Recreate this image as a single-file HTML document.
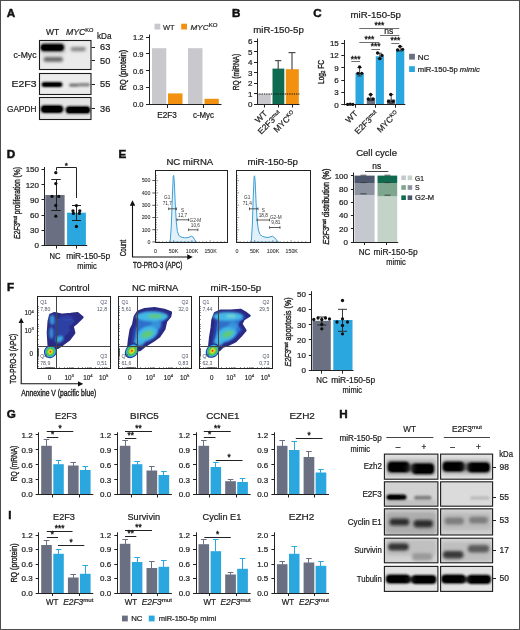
<!DOCTYPE html>
<html lang="en"><head><meta charset="utf-8"><title>Figure</title>
<style>
html,body{margin:0;padding:0;background:#fff;}
body{width:520px;height:630px;overflow:hidden;}
svg{display:block;font-family:'Liberation Sans', sans-serif;fill:#222;}
svg text{stroke:#222;stroke-width:0.22px;}
</style></head><body>
<svg width="520" height="630" viewBox="0 0 520 630">
<rect width="520" height="630" fill="#fff"/>
<defs>
<filter id="b1" x="-30%" y="-80%" width="160%" height="260%"><feGaussianBlur stdDeviation="1.1"/></filter>
<filter id="b2" x="-30%" y="-80%" width="160%" height="260%"><feGaussianBlur stdDeviation="1.6"/></filter>
<filter id="b03" x="-30%" y="-30%" width="160%" height="160%"><feGaussianBlur stdDeviation="0.4"/></filter>
<filter id="b05" x="-30%" y="-30%" width="160%" height="160%"><feGaussianBlur stdDeviation="0.7"/></filter>
<filter id="bd" x="-30%" y="-30%" width="160%" height="160%"><feGaussianBlur stdDeviation="1.0"/></filter>
<marker id="ah" viewBox="0 0 10 10" refX="5" refY="5" markerWidth="5" markerHeight="5" orient="auto-start-reverse"><path d="M0,0 L10,5 L0,10 z" fill="#111"/></marker>
</defs>
<text transform="translate(6.8,17) scale(1.1,1)" font-size="10.6" font-weight="bold" style="stroke-width:0.45px;stroke:#111" fill="#111">A</text>
<text font-size="9" textLength="13.2" lengthAdjust="spacingAndGlyphs" x="46" y="35.2" >WT</text>
<text font-size="9" textLength="27.5" lengthAdjust="spacingAndGlyphs" font-style="italic" x="66" y="35.2" >MYC<tspan font-size="5.8" dy="-3" font-style="normal">KO</tspan></text>
<text font-size="8.8" textLength="14.5" lengthAdjust="spacingAndGlyphs" x="97" y="39" >kDa</text>
<clipPath id="cA1"><rect x="39.5" y="40.5" width="51.5" height="29"/></clipPath>
<rect x="39.5" y="40.5" width="51.5" height="29" fill="#eaeaea" />
<g clip-path="url(#cA1)">
<rect x="40" y="42" width="26" height="12" rx="4" fill="#888" opacity="0.3" filter="url(#b2)"/>
<rect x="40.5" y="43.8" width="23.7" height="7.4" rx="3.700000000000003" fill="#000" opacity="1" filter="url(#b1)"/>
<rect x="41.5" y="45.0" width="21.0" height="5.2" rx="2.6000000000000014" fill="#000" opacity="1" filter="url(#b05)"/>
<rect x="43.5" y="57.0" width="19.5" height="4.8" rx="2.3999999999999986" fill="#444" opacity="0.8" filter="url(#b2)"/>
<rect x="70.5" y="47.0" width="15.5" height="4.2" rx="2.1000000000000014" fill="#666" opacity="0.75" filter="url(#b2)"/>
</g>
<rect x="39.5" y="40.5" width="51.5" height="29" fill="none" stroke="#1c1c1c" stroke-width="1.1" />
<clipPath id="cA2"><rect x="39.5" y="73.5" width="51.5" height="21"/></clipPath>
<rect x="39.5" y="73.5" width="51.5" height="21" fill="#ebebeb" />
<g clip-path="url(#cA2)">
<rect x="41.5" y="82.0" width="21.0" height="5.0" rx="2.5" fill="#000" opacity="1" filter="url(#b1)"/>
<rect x="43" y="83.0" width="18" height="3.2" rx="1.6000000000000014" fill="#000" opacity="0.9" filter="url(#b05)"/>
<rect x="69" y="83.4" width="10" height="3.4" rx="1.6999999999999957" fill="#555" opacity="0.8" filter="url(#b1)"/>
<rect x="78" y="83.0" width="12" height="3.4" rx="1.7000000000000028" fill="#666" opacity="0.75" filter="url(#b1)"/>
</g>
<rect x="39.5" y="73.5" width="51.5" height="21" fill="none" stroke="#1c1c1c" stroke-width="1.1" />
<clipPath id="cA3"><rect x="39.5" y="97.5" width="51.5" height="22"/></clipPath>
<rect x="39.5" y="97.5" width="51.5" height="22" fill="#e4e4e4" />
<g clip-path="url(#cA3)">
<rect x="40.5" y="105.2" width="23.0" height="7.8" rx="3.8999999999999986" fill="#000" opacity="1" filter="url(#b1)"/>
<rect x="42" y="106.0" width="20" height="6.2" rx="3.1000000000000014" fill="#000" opacity="1" filter="url(#b05)"/>
<rect x="65.5" y="106.2" width="25.0" height="7.4" rx="3.6999999999999957" fill="#000" opacity="1" filter="url(#b1)"/>
<rect x="67" y="107.0" width="22" height="5.8" rx="2.8999999999999986" fill="#000" opacity="1" filter="url(#b05)"/>
</g>
<rect x="39.5" y="97.5" width="51.5" height="22" fill="none" stroke="#1c1c1c" stroke-width="1.1" />
<text font-size="8.8" text-anchor="end" textLength="23" lengthAdjust="spacingAndGlyphs" x="36.5" y="57.5" >c-Myc</text>
<text font-size="8.8" text-anchor="end" textLength="25" lengthAdjust="spacingAndGlyphs" x="36.5" y="87.3" >E2F3</text>
<text font-size="8.8" text-anchor="end" textLength="29.5" lengthAdjust="spacingAndGlyphs" x="36.5" y="111.8" >GAPDH</text>
<line x1="91.5" y1="47.5" x2="95" y2="47.5" stroke="#222" stroke-width="1" />
<text font-size="8.8" textLength="10.3" lengthAdjust="spacingAndGlyphs" x="100" y="50.400000000000006" >63</text>
<line x1="91.5" y1="60.5" x2="95" y2="60.5" stroke="#222" stroke-width="1" />
<text font-size="8.8" textLength="10.3" lengthAdjust="spacingAndGlyphs" x="100" y="63.5" >50</text>
<line x1="91.5" y1="84.5" x2="95" y2="84.5" stroke="#222" stroke-width="1" />
<text font-size="8.8" textLength="10.3" lengthAdjust="spacingAndGlyphs" x="100" y="87.4" >55</text>
<line x1="91.5" y1="108.5" x2="95" y2="108.5" stroke="#222" stroke-width="1" />
<text font-size="8.8" textLength="10.3" lengthAdjust="spacingAndGlyphs" x="100" y="111.7" >36</text>
<text font-size="8.6" text-anchor="middle" textLength="40.5" lengthAdjust="spacingAndGlyphs" transform="translate(125.596,70) rotate(-90)" style="stroke-width:0.36px">RQ (protein)</text>
<line x1="149.5" y1="34.5" x2="149.5" y2="105.0" stroke="#222" stroke-width="1" />
<line x1="146.0" y1="37.5" x2="149.5" y2="37.5" stroke="#222" stroke-width="1" />
<text font-size="8.0" text-anchor="end" textLength="10.5" lengthAdjust="spacingAndGlyphs" x="143.5" y="39.88" >1.2</text>
<line x1="146.0" y1="53.5" x2="149.5" y2="53.5" stroke="#222" stroke-width="1" />
<text font-size="8.0" text-anchor="end" textLength="10.5" lengthAdjust="spacingAndGlyphs" x="143.5" y="56.78" >0.9</text>
<line x1="146.0" y1="70.5" x2="149.5" y2="70.5" stroke="#222" stroke-width="1" />
<text font-size="8.0" text-anchor="end" textLength="10.5" lengthAdjust="spacingAndGlyphs" x="143.5" y="73.67999999999999" >0.6</text>
<line x1="146.0" y1="87.5" x2="149.5" y2="87.5" stroke="#222" stroke-width="1" />
<text font-size="8.0" text-anchor="end" textLength="10.5" lengthAdjust="spacingAndGlyphs" x="143.5" y="90.47999999999999" >0.3</text>
<line x1="146.0" y1="104.5" x2="149.5" y2="104.5" stroke="#222" stroke-width="1" />
<text font-size="8.0" text-anchor="end" textLength="10.5" lengthAdjust="spacingAndGlyphs" x="143.5" y="107.38" >0.0</text>
<rect x="152" y="48.2" width="14.3" height="56.3" fill="#c9c8cd" />
<rect x="168" y="93.4" width="14.5" height="11.1" fill="#f2900f" />
<rect x="188" y="48.2" width="14.5" height="56.3" fill="#c9c8cd" />
<rect x="204.5" y="98.8" width="14.3" height="5.7" fill="#f2900f" />
<line x1="149" y1="104.5" x2="221.5" y2="104.5" stroke="#222" stroke-width="1" />
<line x1="167.5" y1="104.5" x2="167.5" y2="108" stroke="#222" stroke-width="1" />
<line x1="203.5" y1="104.5" x2="203.5" y2="108" stroke="#222" stroke-width="1" />
<text font-size="8.2" text-anchor="middle" textLength="19.5" lengthAdjust="spacingAndGlyphs" x="167" y="118.3" >E2F3</text>
<text font-size="8.2" text-anchor="middle" textLength="21" lengthAdjust="spacingAndGlyphs" x="203.5" y="118.3" >c-Myc</text>
<rect x="154.5" y="23.7" width="5.8" height="5.8" fill="#c9c8cd" />
<text font-size="7.8" textLength="11.6" lengthAdjust="spacingAndGlyphs" fill="#333" x="163" y="29.6" >WT</text>
<rect x="181.2" y="23.7" width="5.8" height="5.8" fill="#f2900f" />
<text font-size="7.8" textLength="27" lengthAdjust="spacingAndGlyphs" font-style="italic" fill="#333" x="190.5" y="29.6" >MYC<tspan font-size="5.8" dy="-2.8" font-style="normal">KO</tspan></text>
<text transform="translate(232,16.8) scale(1.1,1)" font-size="10.6" font-weight="bold" style="stroke-width:0.45px;stroke:#111" fill="#111">B</text>
<text font-size="9.4" textLength="50.5" lengthAdjust="spacingAndGlyphs" x="253.3" y="33" >miR-150-5p</text>
<text font-size="8.6" text-anchor="middle" textLength="36.5" lengthAdjust="spacingAndGlyphs" transform="translate(239.096,72) rotate(-90)" style="stroke-width:0.36px">RQ (miRNA)</text>
<line x1="257.5" y1="38.5" x2="257.5" y2="105.0" stroke="#222" stroke-width="1" />
<line x1="254" y1="104.5" x2="257" y2="104.5" stroke="#222" stroke-width="1" />
<text font-size="8.0" text-anchor="end" x="252.5" y="107.38" >0</text>
<line x1="254" y1="93.5" x2="257" y2="93.5" stroke="#222" stroke-width="1" />
<text font-size="8.0" text-anchor="end" x="252.5" y="96.84" >1</text>
<line x1="254" y1="83.5" x2="257" y2="83.5" stroke="#222" stroke-width="1" />
<text font-size="8.0" text-anchor="end" x="252.5" y="86.3" >2</text>
<line x1="254" y1="72.5" x2="257" y2="72.5" stroke="#222" stroke-width="1" />
<text font-size="8.0" text-anchor="end" x="252.5" y="75.75999999999999" >3</text>
<line x1="254" y1="62.5" x2="257" y2="62.5" stroke="#222" stroke-width="1" />
<text font-size="8.0" text-anchor="end" x="252.5" y="65.22" >4</text>
<line x1="254" y1="51.5" x2="257" y2="51.5" stroke="#222" stroke-width="1" />
<text font-size="8.0" text-anchor="end" x="252.5" y="54.68000000000001" >5</text>
<line x1="254" y1="41.5" x2="257" y2="41.5" stroke="#222" stroke-width="1" />
<text font-size="8.0" text-anchor="end" x="252.5" y="44.14000000000001" >6</text>
<rect x="258" y="94" width="12.8" height="10.5" fill="#c9c8cd" />
<rect x="272.5" y="68.6" width="11.8" height="35.9" fill="#0f6a50" />
<rect x="285.8" y="69.2" width="13.0" height="35.3" fill="#f2900f" />
<line x1="278.2" y1="69" x2="278.2" y2="60.6" stroke="#4d4d4d" stroke-width="1.2" />
<line x1="275.09999999999997" y1="60.6" x2="281.3" y2="60.6" stroke="#4d4d4d" stroke-width="1.2" />
<line x1="292" y1="69.5" x2="292" y2="52.6" stroke="#4d4d4d" stroke-width="1.2" />
<line x1="288.5" y1="52.6" x2="295.5" y2="52.6" stroke="#4d4d4d" stroke-width="1.2" />
<line x1="257" y1="94" x2="299.5" y2="94" stroke="#111" stroke-width="1" stroke-dasharray="1.3,1"/>
<line x1="256.5" y1="104.5" x2="299.5" y2="104.5" stroke="#222" stroke-width="1" />
<line x1="264.5" y1="104.5" x2="264.5" y2="107.5" stroke="#222" stroke-width="1" />
<line x1="278.5" y1="104.5" x2="278.5" y2="107.5" stroke="#222" stroke-width="1" />
<line x1="292.5" y1="104.5" x2="292.5" y2="107.5" stroke="#222" stroke-width="1" />
<text font-size="8.4" text-anchor="end" transform="translate(267.8,114.2) rotate(-45)">WT</text>
<text font-size="8.4" text-anchor="end" transform="translate(281.8,114.2) rotate(-45)">E2F3<tspan font-size="5.4" dy="-2.8" font-style="normal">mut</tspan></text>
<text font-size="8.4" text-anchor="end" transform="translate(295.8,114.2) rotate(-45)">MYC<tspan font-size="5.4" dy="-2.8" font-style="normal">KO</tspan></text>
<text transform="translate(313.3,16.8) scale(1.1,1)" font-size="10.6" font-weight="bold" style="stroke-width:0.45px;stroke:#111" fill="#111">C</text>
<text font-size="9.4" textLength="50.5" lengthAdjust="spacingAndGlyphs" x="350.5" y="18" >miR-150-5p</text>
<text font-size="8.6" text-anchor="middle" textLength="24" lengthAdjust="spacingAndGlyphs" transform="translate(323.596,72) rotate(-90)" style="stroke-width:0.36px">Log<tspan font-size="5.5" dy="1.5">2</tspan><tspan dy="-1.5"> FC</tspan></text>
<line x1="344.5" y1="40" x2="344.5" y2="105.3" stroke="#222" stroke-width="1" />
<line x1="341.3" y1="104.5" x2="344.3" y2="104.5" stroke="#222" stroke-width="1" />
<text font-size="8.0" text-anchor="end" x="338.8" y="107.67999999999999" >0</text>
<line x1="341.3" y1="92.5" x2="344.3" y2="92.5" stroke="#222" stroke-width="1" />
<text font-size="8.0" text-anchor="end" x="338.8" y="95.329" >3</text>
<line x1="341.3" y1="80.5" x2="344.3" y2="80.5" stroke="#222" stroke-width="1" />
<text font-size="8.0" text-anchor="end" x="338.8" y="82.978" >6</text>
<line x1="341.3" y1="67.5" x2="344.3" y2="67.5" stroke="#222" stroke-width="1" />
<text font-size="8.0" text-anchor="end" x="338.8" y="70.627" >9</text>
<line x1="341.3" y1="55.5" x2="344.3" y2="55.5" stroke="#222" stroke-width="1" />
<text font-size="8.0" text-anchor="end" x="338.8" y="58.276" >12</text>
<line x1="341.3" y1="43.5" x2="344.3" y2="43.5" stroke="#222" stroke-width="1" />
<text font-size="8.0" text-anchor="end" x="338.8" y="45.925" >15</text>
<rect x="346" y="104.39" width="8.5" height="0.41" fill="#6a7081" />
<rect x="355.5" y="73.1" width="8.3" height="31.7" fill="#2ba7df" />
<rect x="366.8" y="98.21" width="8.2" height="6.59" fill="#6a7081" />
<rect x="375.8" y="56.22" width="8.1" height="48.58" fill="#2ba7df" />
<rect x="387" y="99.45" width="8.3" height="5.35" fill="#6a7081" />
<rect x="396" y="50.04" width="8.3" height="54.76" fill="#2ba7df" />
<line x1="343.8" y1="104.5" x2="405.3" y2="104.5" stroke="#222" stroke-width="1" />
<line x1="359.6" y1="67.5" x2="359.6" y2="76" stroke="#333" stroke-width="0.9" />
<line x1="357.35" y1="67.5" x2="361.85" y2="67.5" stroke="#333" stroke-width="0.9" />
<line x1="357.35" y1="76" x2="361.85" y2="76" stroke="#333" stroke-width="0.9" />
<line x1="370.8" y1="94.6" x2="370.8" y2="100.6" stroke="#333" stroke-width="0.9" />
<line x1="368.55" y1="94.6" x2="373.05" y2="94.6" stroke="#333" stroke-width="0.9" />
<line x1="368.55" y1="100.6" x2="373.05" y2="100.6" stroke="#333" stroke-width="0.9" />
<line x1="379.8" y1="53.2" x2="379.8" y2="58.6" stroke="#333" stroke-width="0.9" />
<line x1="377.55" y1="53.2" x2="382.05" y2="53.2" stroke="#333" stroke-width="0.9" />
<line x1="377.55" y1="58.6" x2="382.05" y2="58.6" stroke="#333" stroke-width="0.9" />
<line x1="391.2" y1="94.6" x2="391.2" y2="103.2" stroke="#333" stroke-width="0.9" />
<line x1="388.95" y1="94.6" x2="393.45" y2="94.6" stroke="#333" stroke-width="0.9" />
<line x1="388.95" y1="103.2" x2="393.45" y2="103.2" stroke="#333" stroke-width="0.9" />
<line x1="400.2" y1="46.6" x2="400.2" y2="51" stroke="#333" stroke-width="0.9" />
<line x1="397.95" y1="46.6" x2="402.45" y2="46.6" stroke="#333" stroke-width="0.9" />
<line x1="397.95" y1="51" x2="402.45" y2="51" stroke="#333" stroke-width="0.9" />
<circle cx="347.6" cy="104.4" r="1.65" fill="#111"/>
<circle cx="350.2" cy="104.2" r="1.65" fill="#111"/>
<circle cx="352.8" cy="104.4" r="1.65" fill="#111"/>
<circle cx="359.6" cy="67.0" r="1.65" fill="#111"/>
<circle cx="357.9" cy="73.3" r="1.65" fill="#111"/>
<circle cx="361.8" cy="73.3" r="1.65" fill="#111"/>
<circle cx="370.6" cy="94.5" r="1.65" fill="#111"/>
<circle cx="368.3" cy="99" r="1.65" fill="#111"/>
<circle cx="373.0" cy="99" r="1.65" fill="#111"/>
<circle cx="377.6" cy="53.0" r="1.65" fill="#111"/>
<circle cx="382.0" cy="55.5" r="1.65" fill="#111"/>
<circle cx="379.8" cy="58.7" r="1.65" fill="#111"/>
<circle cx="390.8" cy="94.5" r="1.65" fill="#111"/>
<circle cx="388.6" cy="101.3" r="1.65" fill="#111"/>
<circle cx="393.2" cy="101.3" r="1.65" fill="#111"/>
<circle cx="400.0" cy="46.3" r="1.65" fill="#111"/>
<circle cx="397.6" cy="50.0" r="1.65" fill="#111"/>
<circle cx="402.6" cy="49.3" r="1.65" fill="#111"/>
<line x1="355.5" y1="104.8" x2="355.5" y2="107.8" stroke="#222" stroke-width="1" />
<line x1="375.5" y1="104.8" x2="375.5" y2="107.8" stroke="#222" stroke-width="1" />
<line x1="395.5" y1="104.8" x2="395.5" y2="107.8" stroke="#222" stroke-width="1" />
<text font-size="8.4" text-anchor="end" transform="translate(358.3,114.2) rotate(-45)">WT</text>
<text font-size="8.4" text-anchor="end" transform="translate(378.6,114.2) rotate(-45)">E2F3<tspan font-size="5.4" dy="-2.8" font-style="normal">mut</tspan></text>
<text font-size="8.4" text-anchor="end" transform="translate(399.1,114.2) rotate(-45)">MYC<tspan font-size="5.4" dy="-2.8" font-style="normal">KO</tspan></text>
<line x1="359.3" y1="28.5" x2="399.3" y2="28.5" stroke="#6f6f6f" stroke-width="1" />
<text font-size="8.4" text-anchor="middle" x="379.3" y="28.1" style="stroke-width:0.4px">***</text>
<line x1="380" y1="35.5" x2="399.3" y2="35.5" stroke="#6f6f6f" stroke-width="1" />
<text font-size="8.6" text-anchor="middle" x="388.8" y="34.199999999999996" >ns</text>
<line x1="359.3" y1="42.5" x2="379.3" y2="42.5" stroke="#6f6f6f" stroke-width="1" />
<text font-size="8.4" text-anchor="middle" x="369.3" y="42.300000000000004" style="stroke-width:0.4px">***</text>
<line x1="391.3" y1="43.5" x2="399.3" y2="43.5" stroke="#6f6f6f" stroke-width="1" />
<text font-size="8.4" text-anchor="middle" x="395.3" y="42.800000000000004" style="stroke-width:0.4px">***</text>
<line x1="371.3" y1="49.5" x2="380" y2="49.5" stroke="#6f6f6f" stroke-width="1" />
<text font-size="8.4" text-anchor="middle" x="375.65" y="49.1" style="stroke-width:0.4px">***</text>
<line x1="351.3" y1="61.5" x2="360" y2="61.5" stroke="#6f6f6f" stroke-width="1" />
<text font-size="8.4" text-anchor="middle" x="355.65" y="61.6" style="stroke-width:0.4px">***</text>
<rect x="409.1" y="53.8" width="5.8" height="5.8" fill="#6a7081" />
<text font-size="7.9" textLength="11.6" lengthAdjust="spacingAndGlyphs" x="417.8" y="60" >NC</text>
<rect x="409.1" y="66.2" width="5.8" height="5.8" fill="#2ba7df" />
<text font-size="7.9" textLength="62" lengthAdjust="spacingAndGlyphs" x="417.8" y="72.4" >miR-150-5p <tspan font-style="italic">mimic</tspan></text>
<text transform="translate(6.8,158) scale(1.1,1)" font-size="10.6" font-weight="bold" style="stroke-width:0.45px;stroke:#111" fill="#111">D</text>
<text font-size="8.6" text-anchor="middle" textLength="72" lengthAdjust="spacingAndGlyphs" transform="translate(20.096,203) rotate(-90)" style="stroke-width:0.36px"><tspan font-style="italic">E2F3</tspan><tspan font-size="5.4" dy="-2.8">mut</tspan><tspan dy="2.8"> proliferation (%)</tspan></text>
<line x1="44.5" y1="167" x2="44.5" y2="246.0" stroke="#222" stroke-width="1" />
<line x1="41.5" y1="245.5" x2="44.5" y2="245.5" stroke="#222" stroke-width="1" />
<text font-size="8.0" text-anchor="end" x="39" y="248.38" >0</text>
<line x1="41.5" y1="230.5" x2="44.5" y2="230.5" stroke="#222" stroke-width="1" />
<text font-size="8.0" text-anchor="end" x="39" y="233.18" >30</text>
<line x1="41.5" y1="215.5" x2="44.5" y2="215.5" stroke="#222" stroke-width="1" />
<text font-size="8.0" text-anchor="end" x="39" y="217.98" >60</text>
<line x1="41.5" y1="199.5" x2="44.5" y2="199.5" stroke="#222" stroke-width="1" />
<text font-size="8.0" text-anchor="end" x="39" y="202.78" >90</text>
<line x1="41.5" y1="184.5" x2="44.5" y2="184.5" stroke="#222" stroke-width="1" />
<text font-size="8.0" text-anchor="end" x="39" y="187.57999999999998" >120</text>
<line x1="41.5" y1="169.5" x2="44.5" y2="169.5" stroke="#222" stroke-width="1" />
<text font-size="8.0" text-anchor="end" x="39" y="172.38" >150</text>
<rect x="45.3" y="195" width="19.3" height="50.5" fill="#6a7081" />
<rect x="67.1" y="212.7" width="18.8" height="32.8" fill="#2ba7df" />
<line x1="44" y1="245.5" x2="87.3" y2="245.5" stroke="#222" stroke-width="1" />
<line x1="56.5" y1="245.5" x2="56.5" y2="248.6" stroke="#222" stroke-width="1" />
<line x1="76.5" y1="245.5" x2="76.5" y2="248.6" stroke="#222" stroke-width="1" />
<line x1="56.5" y1="179.3" x2="56.5" y2="210.5" stroke="#222" stroke-width="1" />
<line x1="51.25" y1="179.5" x2="60.75" y2="179.5" stroke="#222" stroke-width="1" />
<line x1="51.25" y1="210.5" x2="60.75" y2="210.5" stroke="#222" stroke-width="1" />
<line x1="76.5" y1="205" x2="76.5" y2="220.2" stroke="#222" stroke-width="1" />
<line x1="72.0" y1="205.5" x2="81.0" y2="205.5" stroke="#222" stroke-width="1" />
<line x1="72.0" y1="220.5" x2="81.0" y2="220.5" stroke="#222" stroke-width="1" />
<circle cx="55.8" cy="172.7" r="1.65" fill="#111"/>
<circle cx="55.8" cy="183.6" r="1.65" fill="#111"/>
<circle cx="52" cy="196.4" r="1.65" fill="#111"/>
<circle cx="58.8" cy="196.4" r="1.65" fill="#111"/>
<circle cx="55.8" cy="205.5" r="1.65" fill="#111"/>
<circle cx="55.8" cy="216.2" r="1.65" fill="#111"/>
<circle cx="76.4" cy="205.6" r="1.65" fill="#111"/>
<circle cx="73" cy="210.8" r="1.65" fill="#111"/>
<circle cx="79.8" cy="210.8" r="1.65" fill="#111"/>
<circle cx="73.4" cy="213.4" r="1.65" fill="#111"/>
<circle cx="79.4" cy="213.4" r="1.65" fill="#111"/>
<circle cx="76.4" cy="226.5" r="1.65" fill="#111"/>
<path d="M56.5,170.5 V167.5 H76.5 V198" fill="none" stroke="#222" stroke-width="1"/>
<text font-size="8" text-anchor="middle" x="66.4" y="167.6" style="stroke-width:0.4px">*</text>
<text font-size="8.4" text-anchor="middle" textLength="11" lengthAdjust="spacingAndGlyphs" x="55" y="258.8" >NC</text>
<text font-size="8.4" text-anchor="middle" textLength="44" lengthAdjust="spacingAndGlyphs" x="88.2" y="258.8" >miR-150-5p</text>
<text font-size="8.4" text-anchor="middle" textLength="19.5" lengthAdjust="spacingAndGlyphs" x="87" y="268.8" >mimic</text>
<text transform="translate(118.5,157.8) scale(1.1,1)" font-size="10.6" font-weight="bold" style="stroke-width:0.45px;stroke:#111" fill="#111">E</text>
<text font-size="9.4" textLength="46.8" lengthAdjust="spacingAndGlyphs" x="166.4" y="164.6" >NC miRNA</text>
<text font-size="9.4" textLength="50.6" lengthAdjust="spacingAndGlyphs" x="247.4" y="164.6" >miR-150-5p</text>
<rect x="155.5" y="170.5" width="72" height="72" fill="#fff" />
<path d="M169.4,242.2 L170.3,240 L171.3,226 L172.3,198 L173.2,176.5 L173.7,175.4 L174.3,182 L175.2,203 L176.3,222 L177.4,231.5 L178.8,235.5 L181,237 L184.5,237.8 L188,237.6 L190,236.8 L191.6,236.2 L193,237 L194.4,239.2 L195.6,241.2 L196.8,242.2 Z" fill="#e2f0f9" stroke="#3d9fd6" stroke-width="1" stroke-linejoin="round"/>
<rect x="155.5" y="170.5" width="72" height="72" fill="none" stroke="#222" stroke-width="1" />
<line x1="155.5" y1="242.1" x2="158.1" y2="242.1" stroke="#333" stroke-width="0.5" />
<line x1="155.5" y1="239.64" x2="157.1" y2="239.64" stroke="#333" stroke-width="0.5" />
<line x1="155.5" y1="237.18" x2="157.1" y2="237.18" stroke="#333" stroke-width="0.5" />
<line x1="155.5" y1="234.72" x2="157.1" y2="234.72" stroke="#333" stroke-width="0.5" />
<line x1="155.5" y1="232.26" x2="157.1" y2="232.26" stroke="#333" stroke-width="0.5" />
<line x1="155.5" y1="229.79999999999998" x2="158.1" y2="229.79999999999998" stroke="#333" stroke-width="0.5" />
<line x1="155.5" y1="227.34" x2="157.1" y2="227.34" stroke="#333" stroke-width="0.5" />
<line x1="155.5" y1="224.88" x2="157.1" y2="224.88" stroke="#333" stroke-width="0.5" />
<line x1="155.5" y1="222.42" x2="157.1" y2="222.42" stroke="#333" stroke-width="0.5" />
<line x1="155.5" y1="219.95999999999998" x2="157.1" y2="219.95999999999998" stroke="#333" stroke-width="0.5" />
<line x1="155.5" y1="217.5" x2="158.1" y2="217.5" stroke="#333" stroke-width="0.5" />
<line x1="155.5" y1="215.04" x2="157.1" y2="215.04" stroke="#333" stroke-width="0.5" />
<line x1="155.5" y1="212.57999999999998" x2="157.1" y2="212.57999999999998" stroke="#333" stroke-width="0.5" />
<line x1="155.5" y1="210.12" x2="157.1" y2="210.12" stroke="#333" stroke-width="0.5" />
<line x1="155.5" y1="207.66" x2="157.1" y2="207.66" stroke="#333" stroke-width="0.5" />
<line x1="155.5" y1="205.2" x2="158.1" y2="205.2" stroke="#333" stroke-width="0.5" />
<line x1="155.5" y1="202.74" x2="157.1" y2="202.74" stroke="#333" stroke-width="0.5" />
<line x1="155.5" y1="200.28" x2="157.1" y2="200.28" stroke="#333" stroke-width="0.5" />
<line x1="155.5" y1="197.82" x2="157.1" y2="197.82" stroke="#333" stroke-width="0.5" />
<line x1="155.5" y1="195.35999999999999" x2="157.1" y2="195.35999999999999" stroke="#333" stroke-width="0.5" />
<line x1="155.5" y1="192.89999999999998" x2="158.1" y2="192.89999999999998" stroke="#333" stroke-width="0.5" />
<line x1="155.5" y1="190.44" x2="157.1" y2="190.44" stroke="#333" stroke-width="0.5" />
<line x1="155.5" y1="187.98" x2="157.1" y2="187.98" stroke="#333" stroke-width="0.5" />
<line x1="155.5" y1="185.51999999999998" x2="157.1" y2="185.51999999999998" stroke="#333" stroke-width="0.5" />
<line x1="155.5" y1="183.06" x2="157.1" y2="183.06" stroke="#333" stroke-width="0.5" />
<line x1="155.5" y1="180.6" x2="158.1" y2="180.6" stroke="#333" stroke-width="0.5" />
<line x1="155.5" y1="178.14" x2="157.1" y2="178.14" stroke="#333" stroke-width="0.5" />
<line x1="155.5" y1="175.68" x2="157.1" y2="175.68" stroke="#333" stroke-width="0.5" />
<line x1="155.5" y1="242.5" x2="155.5" y2="240.1" stroke="#333" stroke-width="0.5" />
<line x1="159.14" y1="242.5" x2="159.14" y2="241.1" stroke="#333" stroke-width="0.5" />
<line x1="162.78" y1="242.5" x2="162.78" y2="241.1" stroke="#333" stroke-width="0.5" />
<line x1="166.42" y1="242.5" x2="166.42" y2="241.1" stroke="#333" stroke-width="0.5" />
<line x1="170.06" y1="242.5" x2="170.06" y2="241.1" stroke="#333" stroke-width="0.5" />
<line x1="173.7" y1="242.5" x2="173.7" y2="240.1" stroke="#333" stroke-width="0.5" />
<line x1="177.34" y1="242.5" x2="177.34" y2="241.1" stroke="#333" stroke-width="0.5" />
<line x1="180.98" y1="242.5" x2="180.98" y2="241.1" stroke="#333" stroke-width="0.5" />
<line x1="184.62" y1="242.5" x2="184.62" y2="241.1" stroke="#333" stroke-width="0.5" />
<line x1="188.26" y1="242.5" x2="188.26" y2="241.1" stroke="#333" stroke-width="0.5" />
<line x1="191.9" y1="242.5" x2="191.9" y2="240.1" stroke="#333" stroke-width="0.5" />
<line x1="195.54" y1="242.5" x2="195.54" y2="241.1" stroke="#333" stroke-width="0.5" />
<line x1="199.18" y1="242.5" x2="199.18" y2="241.1" stroke="#333" stroke-width="0.5" />
<line x1="202.82" y1="242.5" x2="202.82" y2="241.1" stroke="#333" stroke-width="0.5" />
<line x1="206.46" y1="242.5" x2="206.46" y2="241.1" stroke="#333" stroke-width="0.5" />
<line x1="210.1" y1="242.5" x2="210.1" y2="240.1" stroke="#333" stroke-width="0.5" />
<line x1="213.74" y1="242.5" x2="213.74" y2="241.1" stroke="#333" stroke-width="0.5" />
<line x1="217.38" y1="242.5" x2="217.38" y2="241.1" stroke="#333" stroke-width="0.5" />
<line x1="221.01999999999998" y1="242.5" x2="221.01999999999998" y2="241.1" stroke="#333" stroke-width="0.5" />
<line x1="224.66" y1="242.5" x2="224.66" y2="241.1" stroke="#333" stroke-width="0.5" />
<line x1="168.7" y1="208.8" x2="176.4" y2="208.8" stroke="#333" stroke-width="0.8" />
<line x1="168.7" y1="207.5" x2="168.7" y2="210.10000000000002" stroke="#333" stroke-width="0.8" />
<line x1="176.4" y1="207.5" x2="176.4" y2="210.10000000000002" stroke="#333" stroke-width="0.8" />
<text font-size="4.7" text-anchor="middle" fill="#333" x="167.2" y="199.3" style="stroke:none">G1</text>
<text font-size="4.7" text-anchor="middle" fill="#333" x="167.2" y="204.5" style="stroke:none">71,7</text>
<line x1="177" y1="219.8" x2="188.5" y2="219.8" stroke="#333" stroke-width="0.8" />
<line x1="177" y1="218.5" x2="177" y2="221.10000000000002" stroke="#333" stroke-width="0.8" />
<line x1="188.5" y1="218.5" x2="188.5" y2="221.10000000000002" stroke="#333" stroke-width="0.8" />
<text font-size="4.7" text-anchor="middle" fill="#333" x="182.6" y="211.6" style="stroke:none">S</text>
<text font-size="4.7" text-anchor="middle" fill="#333" x="182.6" y="216.79999999999998" style="stroke:none">12,7</text>
<line x1="188.6" y1="229.8" x2="197.9" y2="229.8" stroke="#333" stroke-width="0.8" />
<line x1="188.6" y1="228.5" x2="188.6" y2="231.10000000000002" stroke="#333" stroke-width="0.8" />
<line x1="197.9" y1="228.5" x2="197.9" y2="231.10000000000002" stroke="#333" stroke-width="0.8" />
<text font-size="4.7" text-anchor="middle" fill="#333" x="195.4" y="221.6" style="stroke:none">G2-M</text>
<text font-size="4.7" text-anchor="middle" fill="#333" x="195.4" y="226.79999999999998" style="stroke:none">10,6</text>
<text font-size="5.3" text-anchor="middle" fill="#444" x="155.4" y="253" style="stroke-width:0.1px">0</text>
<text font-size="5.3" text-anchor="middle" fill="#444" x="173.5" y="253" style="stroke-width:0.1px">50K</text>
<text font-size="5.3" text-anchor="middle" fill="#444" x="192" y="253" style="stroke-width:0.1px">100K</text>
<text font-size="5.3" text-anchor="middle" fill="#444" x="210.6" y="253" style="stroke-width:0.1px">150K</text>
<line x1="152.3" y1="241.9" x2="155.3" y2="241.9" stroke="#333" stroke-width="0.8" />
<text font-size="5.3" text-anchor="end" fill="#444" x="150.5" y="243.8" style="stroke-width:0.1px">0</text>
<line x1="152.3" y1="229.7" x2="155.3" y2="229.7" stroke="#333" stroke-width="0.8" />
<text font-size="5.3" text-anchor="end" fill="#444" x="150.5" y="231.6" style="stroke-width:0.1px">100</text>
<line x1="152.3" y1="217.5" x2="155.3" y2="217.5" stroke="#333" stroke-width="0.8" />
<text font-size="5.3" text-anchor="end" fill="#444" x="150.5" y="219.4" style="stroke-width:0.1px">200</text>
<line x1="152.3" y1="205.3" x2="155.3" y2="205.3" stroke="#333" stroke-width="0.8" />
<text font-size="5.3" text-anchor="end" fill="#444" x="150.5" y="207.20000000000002" style="stroke-width:0.1px">300</text>
<line x1="152.3" y1="193" x2="155.3" y2="193" stroke="#333" stroke-width="0.8" />
<text font-size="5.3" text-anchor="end" fill="#444" x="150.5" y="194.9" style="stroke-width:0.1px">400</text>
<line x1="152.3" y1="180.5" x2="155.3" y2="180.5" stroke="#333" stroke-width="0.8" />
<text font-size="5.3" text-anchor="end" fill="#444" x="150.5" y="182.4" style="stroke-width:0.1px">500</text>
<rect x="236.5" y="170.5" width="74" height="72" fill="#fff" />
<path d="M250.6,242.2 L251.4,240 L252.3,226 L253.2,198 L254.1,177 L254.6,175.8 L255.2,182 L256.1,203 L257.2,221 L258.4,230 L260,234.5 L262.5,236.4 L266,237.4 L269,237.3 L271,236.6 L272.4,236.3 L273.8,237 L275.6,239 L277.2,241 L278.8,242.2 Z" fill="#e2f0f9" stroke="#3d9fd6" stroke-width="1" stroke-linejoin="round"/>
<rect x="236.5" y="170.5" width="74" height="72" fill="none" stroke="#222" stroke-width="1" />
<line x1="236.5" y1="242.1" x2="239.1" y2="242.1" stroke="#333" stroke-width="0.5" />
<line x1="236.5" y1="239.64" x2="238.1" y2="239.64" stroke="#333" stroke-width="0.5" />
<line x1="236.5" y1="237.18" x2="238.1" y2="237.18" stroke="#333" stroke-width="0.5" />
<line x1="236.5" y1="234.72" x2="238.1" y2="234.72" stroke="#333" stroke-width="0.5" />
<line x1="236.5" y1="232.26" x2="238.1" y2="232.26" stroke="#333" stroke-width="0.5" />
<line x1="236.5" y1="229.79999999999998" x2="239.1" y2="229.79999999999998" stroke="#333" stroke-width="0.5" />
<line x1="236.5" y1="227.34" x2="238.1" y2="227.34" stroke="#333" stroke-width="0.5" />
<line x1="236.5" y1="224.88" x2="238.1" y2="224.88" stroke="#333" stroke-width="0.5" />
<line x1="236.5" y1="222.42" x2="238.1" y2="222.42" stroke="#333" stroke-width="0.5" />
<line x1="236.5" y1="219.95999999999998" x2="238.1" y2="219.95999999999998" stroke="#333" stroke-width="0.5" />
<line x1="236.5" y1="217.5" x2="239.1" y2="217.5" stroke="#333" stroke-width="0.5" />
<line x1="236.5" y1="215.04" x2="238.1" y2="215.04" stroke="#333" stroke-width="0.5" />
<line x1="236.5" y1="212.57999999999998" x2="238.1" y2="212.57999999999998" stroke="#333" stroke-width="0.5" />
<line x1="236.5" y1="210.12" x2="238.1" y2="210.12" stroke="#333" stroke-width="0.5" />
<line x1="236.5" y1="207.66" x2="238.1" y2="207.66" stroke="#333" stroke-width="0.5" />
<line x1="236.5" y1="205.2" x2="239.1" y2="205.2" stroke="#333" stroke-width="0.5" />
<line x1="236.5" y1="202.74" x2="238.1" y2="202.74" stroke="#333" stroke-width="0.5" />
<line x1="236.5" y1="200.28" x2="238.1" y2="200.28" stroke="#333" stroke-width="0.5" />
<line x1="236.5" y1="197.82" x2="238.1" y2="197.82" stroke="#333" stroke-width="0.5" />
<line x1="236.5" y1="195.35999999999999" x2="238.1" y2="195.35999999999999" stroke="#333" stroke-width="0.5" />
<line x1="236.5" y1="192.89999999999998" x2="239.1" y2="192.89999999999998" stroke="#333" stroke-width="0.5" />
<line x1="236.5" y1="190.44" x2="238.1" y2="190.44" stroke="#333" stroke-width="0.5" />
<line x1="236.5" y1="187.98" x2="238.1" y2="187.98" stroke="#333" stroke-width="0.5" />
<line x1="236.5" y1="185.51999999999998" x2="238.1" y2="185.51999999999998" stroke="#333" stroke-width="0.5" />
<line x1="236.5" y1="183.06" x2="238.1" y2="183.06" stroke="#333" stroke-width="0.5" />
<line x1="236.5" y1="180.6" x2="239.1" y2="180.6" stroke="#333" stroke-width="0.5" />
<line x1="236.5" y1="178.14" x2="238.1" y2="178.14" stroke="#333" stroke-width="0.5" />
<line x1="236.5" y1="175.68" x2="238.1" y2="175.68" stroke="#333" stroke-width="0.5" />
<line x1="236.5" y1="242.5" x2="236.5" y2="240.1" stroke="#333" stroke-width="0.5" />
<line x1="240.14" y1="242.5" x2="240.14" y2="241.1" stroke="#333" stroke-width="0.5" />
<line x1="243.78" y1="242.5" x2="243.78" y2="241.1" stroke="#333" stroke-width="0.5" />
<line x1="247.42" y1="242.5" x2="247.42" y2="241.1" stroke="#333" stroke-width="0.5" />
<line x1="251.06" y1="242.5" x2="251.06" y2="241.1" stroke="#333" stroke-width="0.5" />
<line x1="254.7" y1="242.5" x2="254.7" y2="240.1" stroke="#333" stroke-width="0.5" />
<line x1="258.34" y1="242.5" x2="258.34" y2="241.1" stroke="#333" stroke-width="0.5" />
<line x1="261.98" y1="242.5" x2="261.98" y2="241.1" stroke="#333" stroke-width="0.5" />
<line x1="265.62" y1="242.5" x2="265.62" y2="241.1" stroke="#333" stroke-width="0.5" />
<line x1="269.26" y1="242.5" x2="269.26" y2="241.1" stroke="#333" stroke-width="0.5" />
<line x1="272.9" y1="242.5" x2="272.9" y2="240.1" stroke="#333" stroke-width="0.5" />
<line x1="276.54" y1="242.5" x2="276.54" y2="241.1" stroke="#333" stroke-width="0.5" />
<line x1="280.18" y1="242.5" x2="280.18" y2="241.1" stroke="#333" stroke-width="0.5" />
<line x1="283.82" y1="242.5" x2="283.82" y2="241.1" stroke="#333" stroke-width="0.5" />
<line x1="287.46" y1="242.5" x2="287.46" y2="241.1" stroke="#333" stroke-width="0.5" />
<line x1="291.1" y1="242.5" x2="291.1" y2="240.1" stroke="#333" stroke-width="0.5" />
<line x1="294.74" y1="242.5" x2="294.74" y2="241.1" stroke="#333" stroke-width="0.5" />
<line x1="298.38" y1="242.5" x2="298.38" y2="241.1" stroke="#333" stroke-width="0.5" />
<line x1="302.02" y1="242.5" x2="302.02" y2="241.1" stroke="#333" stroke-width="0.5" />
<line x1="305.65999999999997" y1="242.5" x2="305.65999999999997" y2="241.1" stroke="#333" stroke-width="0.5" />
<line x1="249.5" y1="208.8" x2="258" y2="208.8" stroke="#333" stroke-width="0.8" />
<line x1="249.5" y1="207.5" x2="249.5" y2="210.10000000000002" stroke="#333" stroke-width="0.8" />
<line x1="258" y1="207.5" x2="258" y2="210.10000000000002" stroke="#333" stroke-width="0.8" />
<text font-size="4.7" text-anchor="middle" fill="#333" x="247.2" y="199.3" style="stroke:none">G1</text>
<text font-size="4.7" text-anchor="middle" fill="#333" x="247.2" y="204.5" style="stroke:none">71,4</text>
<line x1="257.2" y1="220" x2="269.5" y2="220" stroke="#333" stroke-width="0.8" />
<line x1="257.2" y1="218.7" x2="257.2" y2="221.3" stroke="#333" stroke-width="0.8" />
<line x1="269.5" y1="218.7" x2="269.5" y2="221.3" stroke="#333" stroke-width="0.8" />
<text font-size="4.7" text-anchor="middle" fill="#333" x="263.2" y="211.6" style="stroke:none">S</text>
<text font-size="4.7" text-anchor="middle" fill="#333" x="263.2" y="216.79999999999998" style="stroke:none">18,8</text>
<line x1="269.6" y1="227.5" x2="280" y2="227.5" stroke="#333" stroke-width="0.8" />
<line x1="269.6" y1="226.2" x2="269.6" y2="228.8" stroke="#333" stroke-width="0.8" />
<line x1="280" y1="226.2" x2="280" y2="228.8" stroke="#333" stroke-width="0.8" />
<text font-size="4.7" text-anchor="middle" fill="#333" x="275.8" y="219.2" style="stroke:none">G2-M</text>
<text font-size="4.7" text-anchor="middle" fill="#333" x="275.8" y="224.39999999999998" style="stroke:none">9,81</text>
<text font-size="5.3" text-anchor="middle" fill="#444" x="237" y="253" style="stroke-width:0.1px">0</text>
<text font-size="5.3" text-anchor="middle" fill="#444" x="254.6" y="253" style="stroke-width:0.1px">50K</text>
<text font-size="5.3" text-anchor="middle" fill="#444" x="273" y="253" style="stroke-width:0.1px">100K</text>
<text font-size="5.3" text-anchor="middle" fill="#444" x="291.7" y="253" style="stroke-width:0.1px">150K</text>
<line x1="132.5" y1="257" x2="132.5" y2="203" stroke="#111" stroke-width="1.1" marker-end="url(#ah)"/>
<line x1="132" y1="257" x2="190" y2="257" stroke="#111" stroke-width="1.1" marker-end="url(#ah)"/>
<text font-size="8.6" text-anchor="middle" textLength="16.5" lengthAdjust="spacingAndGlyphs" transform="translate(126.396,248) rotate(-90)" style="stroke-width:0.36px">Count</text>
<text font-size="8.6" textLength="49.5" lengthAdjust="spacingAndGlyphs" x="133" y="267.6" style="stroke-width:0.36px">TO-PRO-3 (APC)</text>
<text font-size="9.4" textLength="40.8" lengthAdjust="spacingAndGlyphs" x="356.2" y="155.6" >Cell cycle</text>
<text font-size="8.6" text-anchor="middle" textLength="76" lengthAdjust="spacingAndGlyphs" transform="translate(328.696,206.5) rotate(-90)" style="stroke-width:0.36px"><tspan font-style="italic">E2F3</tspan><tspan font-size="5.4" dy="-2.8">mut</tspan><tspan dy="2.8"> distribution (%)</tspan></text>
<line x1="353.5" y1="172.5" x2="353.5" y2="242.5" stroke="#222" stroke-width="1" />
<line x1="350.9" y1="242.5" x2="353.9" y2="242.5" stroke="#222" stroke-width="1" />
<text font-size="8.0" text-anchor="end" x="348" y="244.88" >0</text>
<line x1="350.9" y1="228.5" x2="353.9" y2="228.5" stroke="#222" stroke-width="1" />
<text font-size="8.0" text-anchor="end" x="348" y="231.63" >20</text>
<line x1="350.9" y1="215.5" x2="353.9" y2="215.5" stroke="#222" stroke-width="1" />
<text font-size="8.0" text-anchor="end" x="348" y="218.38" >40</text>
<line x1="350.9" y1="202.5" x2="353.9" y2="202.5" stroke="#222" stroke-width="1" />
<text font-size="8.0" text-anchor="end" x="348" y="205.13" >60</text>
<line x1="350.9" y1="189.5" x2="353.9" y2="189.5" stroke="#222" stroke-width="1" />
<text font-size="8.0" text-anchor="end" x="348" y="191.88" >80</text>
<line x1="350.9" y1="175.5" x2="353.9" y2="175.5" stroke="#222" stroke-width="1" />
<text font-size="8.0" text-anchor="end" x="348" y="178.63" >100</text>
<rect x="354.5" y="195" width="20.1" height="47" fill="#c6c8d0" />
<rect x="354.5" y="183" width="20.1" height="12" fill="#8d92a0" />
<rect x="354.5" y="175.6" width="20.1" height="7.4" fill="#4c566c" />
<rect x="377.5" y="196.3" width="19.7" height="45.7" fill="#c3d3c8" />
<rect x="377.5" y="183" width="19.7" height="13.3" fill="#7ea58d" />
<rect x="377.5" y="175.6" width="19.7" height="7.4" fill="#0f6a50" />
<line x1="360.5" y1="193.8" x2="366.5" y2="193.8" stroke="#333" stroke-width="0.8" />
<line x1="360.5" y1="182.6" x2="366.5" y2="182.6" stroke="#333" stroke-width="0.8" />
<line x1="360.5" y1="175.2" x2="366.5" y2="175.2" stroke="#333" stroke-width="0.8" />
<line x1="384.5" y1="195.2" x2="390.5" y2="195.2" stroke="#333" stroke-width="0.8" />
<line x1="384.5" y1="182.6" x2="390.5" y2="182.6" stroke="#333" stroke-width="0.8" />
<line x1="384.5" y1="175.2" x2="390.5" y2="175.2" stroke="#333" stroke-width="0.8" />
<line x1="353.4" y1="242.5" x2="398.2" y2="242.5" stroke="#222" stroke-width="1" />
<line x1="364.5" y1="242" x2="364.5" y2="245" stroke="#222" stroke-width="1" />
<line x1="386.5" y1="242" x2="386.5" y2="245" stroke="#222" stroke-width="1" />
<line x1="365" y1="171.5" x2="388.3" y2="171.5" stroke="#444" stroke-width="1" />
<text font-size="8.4" text-anchor="middle" x="376.8" y="169.4" >ns</text>
<text font-size="8.4" text-anchor="middle" textLength="11.6" lengthAdjust="spacingAndGlyphs" x="364.6" y="255.2" >NC</text>
<text font-size="8.4" text-anchor="middle" textLength="44" lengthAdjust="spacingAndGlyphs" x="395.6" y="255.2" >miR-150-5p</text>
<text font-size="8.4" text-anchor="middle" textLength="19.5" lengthAdjust="spacingAndGlyphs" x="396" y="265.2" >mimic</text>
<rect x="401.3" y="175.5" width="4.6" height="4.6" fill="#c6c8d0" />
<rect x="407.6" y="175.5" width="4.6" height="4.6" fill="#c3d3c8" />
<text font-size="7.9" textLength="8.8" lengthAdjust="spacingAndGlyphs" x="415" y="180.5" >G1</text>
<rect x="401.3" y="185.2" width="4.6" height="4.6" fill="#7ea58d" />
<rect x="407.6" y="185.2" width="4.6" height="4.6" fill="#8d92a0" />
<text font-size="7.9" textLength="4.6" lengthAdjust="spacingAndGlyphs" x="415" y="190.2" >S</text>
<rect x="401.3" y="195.4" width="4.6" height="4.6" fill="#0f6a50" />
<rect x="407.6" y="195.4" width="4.6" height="4.6" fill="#4c566c" />
<text font-size="7.9" textLength="19" lengthAdjust="spacingAndGlyphs" x="415" y="200.4" >G2-M</text>
<text transform="translate(7,290.6) scale(1.1,1)" font-size="10.6" font-weight="bold" style="stroke-width:0.45px;stroke:#111" fill="#111">F</text>
<text font-size="9.4" textLength="30.4" lengthAdjust="spacingAndGlyphs" x="59.2" y="291.3" >Control</text>
<text font-size="9.4" textLength="46.4" lengthAdjust="spacingAndGlyphs" x="132" y="291.3" >NC miRNA</text>
<text font-size="9.4" textLength="50.7" lengthAdjust="spacingAndGlyphs" x="210.5" y="291.3" >miR-150-5p</text>
<clipPath id="cF1"><rect x="37.5" y="296.5" width="73" height="72"/></clipPath>
<rect x="37.5" y="296.5" width="73" height="72" fill="#fff" />
<g clip-path="url(#cF1)">
<path d="M48.8,345.9 L48,332.9 L48.8,321.4 L50.4,314.9 L54.5,313.2 L62.7,314.9 L70.9,314.1 L77.4,313.2 L82.3,317.3 L77.4,322.2 L72.5,326.3 L74.1,332.9 L69.2,339.4 L62.7,344.3 L57.8,347.6 Z" fill="#2b2a85" stroke="#2b2a85" stroke-width="2.6" stroke-linejoin="round" filter="url(#b03)"/>
<path d="M51.2,342.8 L50.5,331.9 L51.2,322.2 L52.5,316.8 L56.0,315.4 L62.9,316.8 L69.8,316.1 L75.2,315.4 L79.3,318.8 L75.2,322.9 L71.1,326.4 L72.5,331.9 L68.3,337.4 L62.9,341.5 L58.8,344.3 Z" fill="#2c2c8e" opacity="0.9" filter="url(#b05)"/>
<path d="M54.8,338.2 L54.3,330.4 L54.8,323.5 L55.8,319.6 L58.2,318.6 L63.2,319.6 L68.1,319.1 L72.0,318.6 L74.9,321.1 L72.0,324.0 L69.0,326.5 L70.0,330.4 L67.1,334.3 L63.2,337.3 L60.2,339.2 Z" fill="#2e45a8" opacity="0.85" filter="url(#b05)"/>
<g filter="url(#bd)">
<ellipse cx="52.2" cy="320" rx="2.6" ry="5" transform="rotate(0 52.2 320)" fill="#3a9fe0" opacity="0.9"/>
<ellipse cx="51.4" cy="333" rx="2.2" ry="6" transform="rotate(0 51.4 333)" fill="#3a9fe0" opacity="0.85"/>
<ellipse cx="59.5" cy="339.2" rx="4.2" ry="3" transform="rotate(-30 59.5 339.2)" fill="#39b4e6" opacity="0.9"/>
<ellipse cx="66" cy="318" rx="7" ry="2.5" transform="rotate(0 66 318)" fill="#2f57c0" opacity="0.5"/>
</g>
<g filter="url(#b03)">
<ellipse cx="50.4" cy="351.7" rx="6.70" ry="6.16" transform="rotate(-48 50.4 351.7)" fill="#1f2a86"/>
<ellipse cx="50.4" cy="351.7" rx="6.00" ry="5.52" transform="rotate(-48 50.4 351.7)" fill="#2b6fd2"/>
<ellipse cx="50.4" cy="351.7" rx="5.40" ry="4.97" transform="rotate(-48 50.4 351.7)" fill="#35bde0"/>
<ellipse cx="50.4" cy="351.7" rx="4.70" ry="4.32" transform="rotate(-48 50.4 351.7)" fill="#46c255"/>
<ellipse cx="50.4" cy="351.7" rx="3.10" ry="2.85" transform="rotate(-48 50.4 351.7)" fill="#8fd43c"/>
<ellipse cx="50.4" cy="351.7" rx="2.20" ry="2.02" transform="rotate(-48 50.4 351.7)" fill="#dfe030"/>
<ellipse cx="50.4" cy="351.7" rx="1.30" ry="1.20" transform="rotate(-48 50.4 351.7)" fill="#f59a20"/>
<ellipse cx="50.4" cy="351.7" rx="0.70" ry="0.64" transform="rotate(-48 50.4 351.7)" fill="#e8261c"/>
</g>
</g>
<line x1="56.5" y1="296.5" x2="56.5" y2="368.5" stroke="#444" stroke-width="1" />
<line x1="37.5" y1="346.5" x2="110.5" y2="346.5" stroke="#444" stroke-width="1" />
<rect x="37.5" y="296.5" width="73" height="72" fill="none" stroke="#222" stroke-width="1" />
<line x1="41.5" y1="368.5" x2="41.5" y2="367.0" stroke="#222" stroke-width="0.5" />
<line x1="44.0" y1="368.5" x2="44.0" y2="367.0" stroke="#222" stroke-width="0.5" />
<line x1="45.8" y1="368.5" x2="45.8" y2="367.0" stroke="#222" stroke-width="0.5" />
<line x1="47.1" y1="368.5" x2="47.1" y2="367.0" stroke="#222" stroke-width="0.5" />
<line x1="48.3" y1="368.5" x2="48.3" y2="367.0" stroke="#222" stroke-width="0.5" />
<line x1="49.5" y1="368.5" x2="49.5" y2="367.0" stroke="#222" stroke-width="0.5" />
<line x1="50.8" y1="368.5" x2="50.8" y2="367.0" stroke="#222" stroke-width="0.5" />
<line x1="52.3" y1="368.5" x2="52.3" y2="367.0" stroke="#222" stroke-width="0.5" />
<line x1="54.5" y1="368.5" x2="54.5" y2="367.0" stroke="#222" stroke-width="0.5" />
<line x1="59.5" y1="368.5" x2="59.5" y2="367.0" stroke="#222" stroke-width="0.5" />
<line x1="64.5" y1="368.5" x2="64.5" y2="367.0" stroke="#222" stroke-width="0.5" />
<line x1="67.5" y1="368.5" x2="67.5" y2="367.0" stroke="#222" stroke-width="0.5" />
<line x1="69.5" y1="368.5" x2="69.5" y2="367.0" stroke="#222" stroke-width="0.5" />
<line x1="71.0" y1="368.5" x2="71.0" y2="367.0" stroke="#222" stroke-width="0.5" />
<line x1="72.2" y1="368.5" x2="72.2" y2="367.0" stroke="#222" stroke-width="0.5" />
<line x1="73.2" y1="368.5" x2="73.2" y2="367.0" stroke="#222" stroke-width="0.5" />
<line x1="78.5" y1="368.5" x2="78.5" y2="367.0" stroke="#222" stroke-width="0.5" />
<line x1="82.5" y1="368.5" x2="82.5" y2="367.0" stroke="#222" stroke-width="0.5" />
<line x1="85.5" y1="368.5" x2="85.5" y2="367.0" stroke="#222" stroke-width="0.5" />
<line x1="87.5" y1="368.5" x2="87.5" y2="367.0" stroke="#222" stroke-width="0.5" />
<line x1="89.0" y1="368.5" x2="89.0" y2="367.0" stroke="#222" stroke-width="0.5" />
<line x1="90.2" y1="368.5" x2="90.2" y2="367.0" stroke="#222" stroke-width="0.5" />
<line x1="91.2" y1="368.5" x2="91.2" y2="367.0" stroke="#222" stroke-width="0.5" />
<line x1="95.5" y1="368.5" x2="95.5" y2="367.0" stroke="#222" stroke-width="0.5" />
<line x1="99.5" y1="368.5" x2="99.5" y2="367.0" stroke="#222" stroke-width="0.5" />
<line x1="102.5" y1="368.5" x2="102.5" y2="367.0" stroke="#222" stroke-width="0.5" />
<line x1="104.5" y1="368.5" x2="104.5" y2="367.0" stroke="#222" stroke-width="0.5" />
<line x1="106.0" y1="368.5" x2="106.0" y2="367.0" stroke="#222" stroke-width="0.5" />
<line x1="107.0" y1="368.5" x2="107.0" y2="367.0" stroke="#222" stroke-width="0.5" />
<line x1="37.5" y1="366.5" x2="39.0" y2="366.5" stroke="#222" stroke-width="0.5" />
<line x1="37.5" y1="363.5" x2="39.0" y2="363.5" stroke="#222" stroke-width="0.5" />
<line x1="37.5" y1="361.5" x2="39.0" y2="361.5" stroke="#222" stroke-width="0.5" />
<line x1="37.5" y1="359.5" x2="39.0" y2="359.5" stroke="#222" stroke-width="0.5" />
<line x1="37.5" y1="358.0" x2="39.0" y2="358.0" stroke="#222" stroke-width="0.5" />
<line x1="37.5" y1="356.7" x2="39.0" y2="356.7" stroke="#222" stroke-width="0.5" />
<line x1="37.5" y1="355.5" x2="39.0" y2="355.5" stroke="#222" stroke-width="0.5" />
<line x1="37.5" y1="354.3" x2="39.0" y2="354.3" stroke="#222" stroke-width="0.5" />
<line x1="37.5" y1="352.9" x2="39.0" y2="352.9" stroke="#222" stroke-width="0.5" />
<line x1="37.5" y1="351.5" x2="39.0" y2="351.5" stroke="#222" stroke-width="0.5" />
<line x1="37.5" y1="349.5" x2="39.0" y2="349.5" stroke="#222" stroke-width="0.5" />
<line x1="37.5" y1="344.5" x2="39.0" y2="344.5" stroke="#222" stroke-width="0.5" />
<line x1="37.5" y1="339.5" x2="39.0" y2="339.5" stroke="#222" stroke-width="0.5" />
<line x1="37.5" y1="335.5" x2="39.0" y2="335.5" stroke="#222" stroke-width="0.5" />
<line x1="37.5" y1="331.5" x2="39.0" y2="331.5" stroke="#222" stroke-width="0.5" />
<line x1="37.5" y1="328.5" x2="39.0" y2="328.5" stroke="#222" stroke-width="0.5" />
<line x1="37.5" y1="326.5" x2="39.0" y2="326.5" stroke="#222" stroke-width="0.5" />
<line x1="37.5" y1="324.5" x2="39.0" y2="324.5" stroke="#222" stroke-width="0.5" />
<line x1="37.5" y1="319.5" x2="39.0" y2="319.5" stroke="#222" stroke-width="0.5" />
<line x1="37.5" y1="315.5" x2="39.0" y2="315.5" stroke="#222" stroke-width="0.5" />
<line x1="37.5" y1="312.5" x2="39.0" y2="312.5" stroke="#222" stroke-width="0.5" />
<line x1="37.5" y1="310.5" x2="39.0" y2="310.5" stroke="#222" stroke-width="0.5" />
<line x1="37.5" y1="308.5" x2="39.0" y2="308.5" stroke="#222" stroke-width="0.5" />
<line x1="37.5" y1="306.5" x2="39.0" y2="306.5" stroke="#222" stroke-width="0.5" />
<rect x="37.2" y="348" width="1.6" height="8" fill="#222" opacity="0.75"/>
<rect x="45.5" y="367.2" width="9" height="1.6" fill="#222" opacity="0.6"/>
<text font-size="5.2" fill="#4f5666" x="40.2" y="304.4" style="stroke:none">Q1</text>
<text font-size="5.2" fill="#4f5666" x="40.2" y="310.6" style="stroke:none">7,80</text>
<text font-size="5.2" text-anchor="end" fill="#4f5666" x="107.10000000000001" y="304.4" style="stroke:none">Q2</text>
<text font-size="5.2" text-anchor="end" fill="#4f5666" x="107.10000000000001" y="310.6" style="stroke:none">12,8</text>
<text font-size="5.2" text-anchor="end" fill="#4f5666" x="107.10000000000001" y="358.4" style="stroke:none">Q3</text>
<text font-size="5.2" text-anchor="end" fill="#4f5666" x="107.10000000000001" y="365" style="stroke:none">0,51</text>
<text font-size="5.2" fill="#4f5666" x="40.2" y="358.4" style="stroke:none">Q4</text>
<text font-size="5.2" fill="#4f5666" x="40.2" y="365" style="stroke:none">78,9</text>
<text font-size="6.3" text-anchor="middle" x="49.6" y="380.2" style="stroke-width:0.15px">0</text>
<text font-size="6.3" text-anchor="middle" x="69.2" y="380.2" style="stroke-width:0.15px">10<tspan font-size="4.2" dy="-2.8">3</tspan></text>
<text font-size="6.3" text-anchor="middle" x="88" y="380.2" style="stroke-width:0.15px">10<tspan font-size="4.2" dy="-2.8">4</tspan></text>
<text font-size="6.3" text-anchor="middle" x="103.6" y="380.2" style="stroke-width:0.15px">10<tspan font-size="4.2" dy="-2.8">5</tspan></text>
<clipPath id="cF2"><rect x="118.5" y="296.5" width="73" height="72"/></clipPath>
<rect x="118.5" y="296.5" width="73" height="72" fill="#fff" />
<g clip-path="url(#cF2)">
<path d="M128.3,347.6 L129.2,339.4 L130.8,329.6 L133.2,324.7 L134.9,316.5 L138.2,311.6 L144.7,309.2 L154.5,308.3 L164.3,310 L170.8,312.4 L170,316.5 L165.9,321.4 L164.3,328.8 L159.4,336.1 L152.9,341 L144.7,345.9 L139.8,350 Z" fill="#2b2a85" stroke="#2b2a85" stroke-width="2.6" stroke-linejoin="round" filter="url(#b03)"/>
<path d="M131.1,344.6 L131.9,337.6 L133.3,329.2 L135.4,324.9 L136.8,317.9 L139.7,313.7 L145.2,311.6 L153.7,310.8 L162.1,312.3 L167.7,314.4 L167.0,317.9 L163.5,322.1 L162.1,328.5 L157.9,334.7 L152.3,339.0 L145.2,343.2 L141.0,346.7 Z" fill="#2a42aa" opacity="0.9" filter="url(#b05)"/>
<path d="M134.0,341.7 L134.6,335.8 L135.8,328.7 L137.5,325.2 L138.7,319.3 L141.1,315.7 L145.8,314.0 L152.8,313.4 L159.9,314.6 L164.6,316.3 L164.0,319.3 L161.1,322.8 L159.9,328.1 L156.4,333.4 L151.7,336.9 L145.8,340.4 L142.3,343.4 Z" fill="#2f74d0" opacity="0.9" filter="url(#b05)"/>
<g filter="url(#bd)">
<ellipse cx="152" cy="316.5" rx="16" ry="5" transform="rotate(0 152 316.5)" fill="#45bce8" opacity="0.95"/>
<ellipse cx="147.1" cy="333.7" rx="11" ry="7" transform="rotate(-25 147.1 333.7)" fill="#45bce8" opacity="0.95"/>
<ellipse cx="140" cy="341" rx="5.5" ry="4.5" transform="rotate(-40 140 341)" fill="#45bce8" opacity="0.85"/>
<ellipse cx="156" cy="325" rx="5" ry="4" transform="rotate(0 156 325)" fill="#3a9fe0" opacity="0.7"/>
<ellipse cx="155.3" cy="316.2" rx="7.5" ry="2.1" transform="rotate(0 155.3 316.2)" fill="#5fcb70" opacity="0.95"/>
<ellipse cx="147.1" cy="334.3" rx="6.5" ry="3.2" transform="rotate(-22 147.1 334.3)" fill="#5fcb70" opacity="0.95"/>
</g>
<g filter="url(#b03)">
<ellipse cx="131.9" cy="350.8" rx="8.17" ry="6.16" transform="rotate(-48 131.9 350.8)" fill="#1f2a86"/>
<ellipse cx="131.9" cy="350.8" rx="7.32" ry="5.52" transform="rotate(-48 131.9 350.8)" fill="#2b6fd2"/>
<ellipse cx="131.9" cy="350.8" rx="6.59" ry="4.97" transform="rotate(-48 131.9 350.8)" fill="#35bde0"/>
<ellipse cx="131.9" cy="350.8" rx="5.73" ry="4.32" transform="rotate(-48 131.9 350.8)" fill="#46c255"/>
<ellipse cx="131.9" cy="350.8" rx="3.78" ry="2.85" transform="rotate(-48 131.9 350.8)" fill="#8fd43c"/>
<ellipse cx="131.9" cy="350.8" rx="2.68" ry="2.02" transform="rotate(-48 131.9 350.8)" fill="#dfe030"/>
<ellipse cx="131.9" cy="350.8" rx="1.59" ry="1.20" transform="rotate(-48 131.9 350.8)" fill="#f59a20"/>
<ellipse cx="131.9" cy="350.8" rx="0.85" ry="0.64" transform="rotate(-48 131.9 350.8)" fill="#e8261c"/>
</g>
</g>
<line x1="137.5" y1="296.5" x2="137.5" y2="368.5" stroke="#444" stroke-width="1" />
<line x1="118.5" y1="346.5" x2="191.5" y2="346.5" stroke="#444" stroke-width="1" />
<rect x="118.5" y="296.5" width="73" height="72" fill="none" stroke="#222" stroke-width="1" />
<line x1="122.5" y1="368.5" x2="122.5" y2="367.0" stroke="#222" stroke-width="0.5" />
<line x1="125.0" y1="368.5" x2="125.0" y2="367.0" stroke="#222" stroke-width="0.5" />
<line x1="126.8" y1="368.5" x2="126.8" y2="367.0" stroke="#222" stroke-width="0.5" />
<line x1="128.1" y1="368.5" x2="128.1" y2="367.0" stroke="#222" stroke-width="0.5" />
<line x1="129.3" y1="368.5" x2="129.3" y2="367.0" stroke="#222" stroke-width="0.5" />
<line x1="130.5" y1="368.5" x2="130.5" y2="367.0" stroke="#222" stroke-width="0.5" />
<line x1="131.8" y1="368.5" x2="131.8" y2="367.0" stroke="#222" stroke-width="0.5" />
<line x1="133.3" y1="368.5" x2="133.3" y2="367.0" stroke="#222" stroke-width="0.5" />
<line x1="135.5" y1="368.5" x2="135.5" y2="367.0" stroke="#222" stroke-width="0.5" />
<line x1="140.5" y1="368.5" x2="140.5" y2="367.0" stroke="#222" stroke-width="0.5" />
<line x1="145.5" y1="368.5" x2="145.5" y2="367.0" stroke="#222" stroke-width="0.5" />
<line x1="148.5" y1="368.5" x2="148.5" y2="367.0" stroke="#222" stroke-width="0.5" />
<line x1="150.5" y1="368.5" x2="150.5" y2="367.0" stroke="#222" stroke-width="0.5" />
<line x1="152.0" y1="368.5" x2="152.0" y2="367.0" stroke="#222" stroke-width="0.5" />
<line x1="153.2" y1="368.5" x2="153.2" y2="367.0" stroke="#222" stroke-width="0.5" />
<line x1="154.2" y1="368.5" x2="154.2" y2="367.0" stroke="#222" stroke-width="0.5" />
<line x1="159.5" y1="368.5" x2="159.5" y2="367.0" stroke="#222" stroke-width="0.5" />
<line x1="163.5" y1="368.5" x2="163.5" y2="367.0" stroke="#222" stroke-width="0.5" />
<line x1="166.5" y1="368.5" x2="166.5" y2="367.0" stroke="#222" stroke-width="0.5" />
<line x1="168.5" y1="368.5" x2="168.5" y2="367.0" stroke="#222" stroke-width="0.5" />
<line x1="170.0" y1="368.5" x2="170.0" y2="367.0" stroke="#222" stroke-width="0.5" />
<line x1="171.2" y1="368.5" x2="171.2" y2="367.0" stroke="#222" stroke-width="0.5" />
<line x1="172.2" y1="368.5" x2="172.2" y2="367.0" stroke="#222" stroke-width="0.5" />
<line x1="176.5" y1="368.5" x2="176.5" y2="367.0" stroke="#222" stroke-width="0.5" />
<line x1="180.5" y1="368.5" x2="180.5" y2="367.0" stroke="#222" stroke-width="0.5" />
<line x1="183.5" y1="368.5" x2="183.5" y2="367.0" stroke="#222" stroke-width="0.5" />
<line x1="185.5" y1="368.5" x2="185.5" y2="367.0" stroke="#222" stroke-width="0.5" />
<line x1="187.0" y1="368.5" x2="187.0" y2="367.0" stroke="#222" stroke-width="0.5" />
<line x1="188.0" y1="368.5" x2="188.0" y2="367.0" stroke="#222" stroke-width="0.5" />
<line x1="118.5" y1="366.5" x2="120.0" y2="366.5" stroke="#222" stroke-width="0.5" />
<line x1="118.5" y1="363.5" x2="120.0" y2="363.5" stroke="#222" stroke-width="0.5" />
<line x1="118.5" y1="361.5" x2="120.0" y2="361.5" stroke="#222" stroke-width="0.5" />
<line x1="118.5" y1="359.5" x2="120.0" y2="359.5" stroke="#222" stroke-width="0.5" />
<line x1="118.5" y1="358.0" x2="120.0" y2="358.0" stroke="#222" stroke-width="0.5" />
<line x1="118.5" y1="356.7" x2="120.0" y2="356.7" stroke="#222" stroke-width="0.5" />
<line x1="118.5" y1="355.5" x2="120.0" y2="355.5" stroke="#222" stroke-width="0.5" />
<line x1="118.5" y1="354.3" x2="120.0" y2="354.3" stroke="#222" stroke-width="0.5" />
<line x1="118.5" y1="352.9" x2="120.0" y2="352.9" stroke="#222" stroke-width="0.5" />
<line x1="118.5" y1="351.5" x2="120.0" y2="351.5" stroke="#222" stroke-width="0.5" />
<line x1="118.5" y1="349.5" x2="120.0" y2="349.5" stroke="#222" stroke-width="0.5" />
<line x1="118.5" y1="344.5" x2="120.0" y2="344.5" stroke="#222" stroke-width="0.5" />
<line x1="118.5" y1="339.5" x2="120.0" y2="339.5" stroke="#222" stroke-width="0.5" />
<line x1="118.5" y1="335.5" x2="120.0" y2="335.5" stroke="#222" stroke-width="0.5" />
<line x1="118.5" y1="331.5" x2="120.0" y2="331.5" stroke="#222" stroke-width="0.5" />
<line x1="118.5" y1="328.5" x2="120.0" y2="328.5" stroke="#222" stroke-width="0.5" />
<line x1="118.5" y1="326.5" x2="120.0" y2="326.5" stroke="#222" stroke-width="0.5" />
<line x1="118.5" y1="324.5" x2="120.0" y2="324.5" stroke="#222" stroke-width="0.5" />
<line x1="118.5" y1="319.5" x2="120.0" y2="319.5" stroke="#222" stroke-width="0.5" />
<line x1="118.5" y1="315.5" x2="120.0" y2="315.5" stroke="#222" stroke-width="0.5" />
<line x1="118.5" y1="312.5" x2="120.0" y2="312.5" stroke="#222" stroke-width="0.5" />
<line x1="118.5" y1="310.5" x2="120.0" y2="310.5" stroke="#222" stroke-width="0.5" />
<line x1="118.5" y1="308.5" x2="120.0" y2="308.5" stroke="#222" stroke-width="0.5" />
<line x1="118.5" y1="306.5" x2="120.0" y2="306.5" stroke="#222" stroke-width="0.5" />
<rect x="118.2" y="348" width="1.6" height="8" fill="#222" opacity="0.75"/>
<rect x="126.5" y="367.2" width="9" height="1.6" fill="#222" opacity="0.6"/>
<text font-size="5.2" fill="#4f5666" x="121.4" y="304.4" style="stroke:none">Q1</text>
<text font-size="5.2" fill="#4f5666" x="121.4" y="310.6" style="stroke:none">5,61</text>
<text font-size="5.2" text-anchor="end" fill="#4f5666" x="188.3" y="304.4" style="stroke:none">Q2</text>
<text font-size="5.2" text-anchor="end" fill="#4f5666" x="188.3" y="310.6" style="stroke:none">32,0</text>
<text font-size="5.2" text-anchor="end" fill="#4f5666" x="188.3" y="358.4" style="stroke:none">Q3</text>
<text font-size="5.2" text-anchor="end" fill="#4f5666" x="188.3" y="365" style="stroke:none">0,83</text>
<text font-size="5.2" fill="#4f5666" x="121.4" y="358.4" style="stroke:none">Q4</text>
<text font-size="5.2" fill="#4f5666" x="121.4" y="365" style="stroke:none">61,6</text>
<text font-size="6.3" text-anchor="middle" x="129.7" y="380.2" style="stroke-width:0.15px">0</text>
<text font-size="6.3" text-anchor="middle" x="150.4" y="380.2" style="stroke-width:0.15px">10<tspan font-size="4.2" dy="-2.8">3</tspan></text>
<text font-size="6.3" text-anchor="middle" x="168.4" y="380.2" style="stroke-width:0.15px">10<tspan font-size="4.2" dy="-2.8">4</tspan></text>
<text font-size="6.3" text-anchor="middle" x="184.7" y="380.2" style="stroke-width:0.15px">10<tspan font-size="4.2" dy="-2.8">5</tspan></text>
<clipPath id="cF3"><rect x="199.5" y="296.5" width="73" height="72"/></clipPath>
<rect x="199.5" y="296.5" width="73" height="72" fill="#fff" />
<g clip-path="url(#cF3)">
<path d="M209.3,346.8 L210.2,337.8 L211.8,328 L212.6,319.8 L215.1,313.2 L220.8,310.8 L230.6,310.8 L240.4,310 L246.1,313.2 L249.4,315.7 L243.7,319 L241.2,323.9 L245.3,330.4 L240.4,336.1 L235.5,341 L229,344.3 L222.4,346.8 L219.2,350 Z" fill="#2b2a85" stroke="#2b2a85" stroke-width="2.6" stroke-linejoin="round" filter="url(#b03)"/>
<path d="M212.1,344.1 L212.8,336.4 L214.2,328.0 L214.9,320.9 L217.1,315.2 L222.0,313.2 L230.4,313.2 L238.8,312.5 L243.7,315.2 L246.6,317.4 L241.6,320.2 L239.5,324.4 L243.0,330.0 L238.8,334.9 L234.6,339.1 L229.0,342.0 L223.3,344.1 L220.6,346.9 Z" fill="#2a42aa" opacity="0.9" filter="url(#b05)"/>
<path d="M214.8,341.4 L215.5,335.0 L216.6,327.9 L217.2,322.0 L219.0,317.2 L223.1,315.5 L230.2,315.5 L237.2,314.9 L241.3,317.2 L243.7,319.0 L239.6,321.4 L237.8,324.9 L240.8,329.6 L237.2,333.7 L233.7,337.3 L229.0,339.6 L224.3,341.4 L222.0,343.7 Z" fill="#2f74d0" opacity="0.9" filter="url(#b05)"/>
<g filter="url(#bd)">
<ellipse cx="228.1" cy="316.5" rx="15" ry="4.6" transform="rotate(0 228.1 316.5)" fill="#45bce8" opacity="0.95"/>
<ellipse cx="226.5" cy="334.2" rx="10.5" ry="7" transform="rotate(-25 226.5 334.2)" fill="#45bce8" opacity="0.95"/>
<ellipse cx="219" cy="341" rx="5" ry="4.5" transform="rotate(-40 219 341)" fill="#45bce8" opacity="0.85"/>
<ellipse cx="233" cy="326" rx="5" ry="4" transform="rotate(0 233 326)" fill="#3a9fe0" opacity="0.7"/>
<ellipse cx="227.5" cy="334.2" rx="6.2" ry="3" transform="rotate(-25 227.5 334.2)" fill="#5fcb70" opacity="0.95"/>
<ellipse cx="231" cy="316" rx="5" ry="1.6" transform="rotate(0 231 316)" fill="#7fdcd0" opacity="0.85"/>
</g>
<g filter="url(#b03)">
<ellipse cx="212.6" cy="350.8" rx="7.70" ry="6.16" transform="rotate(-48 212.6 350.8)" fill="#1f2a86"/>
<ellipse cx="212.6" cy="350.8" rx="6.90" ry="5.52" transform="rotate(-48 212.6 350.8)" fill="#2b6fd2"/>
<ellipse cx="212.6" cy="350.8" rx="6.21" ry="4.97" transform="rotate(-48 212.6 350.8)" fill="#35bde0"/>
<ellipse cx="212.6" cy="350.8" rx="5.40" ry="4.32" transform="rotate(-48 212.6 350.8)" fill="#46c255"/>
<ellipse cx="212.6" cy="350.8" rx="3.56" ry="2.85" transform="rotate(-48 212.6 350.8)" fill="#8fd43c"/>
<ellipse cx="212.6" cy="350.8" rx="2.53" ry="2.02" transform="rotate(-48 212.6 350.8)" fill="#dfe030"/>
<ellipse cx="212.6" cy="350.8" rx="1.49" ry="1.20" transform="rotate(-48 212.6 350.8)" fill="#f59a20"/>
<ellipse cx="212.6" cy="350.8" rx="0.80" ry="0.64" transform="rotate(-48 212.6 350.8)" fill="#e8261c"/>
</g>
</g>
<line x1="218.5" y1="296.5" x2="218.5" y2="368.5" stroke="#444" stroke-width="1" />
<line x1="199.5" y1="346.5" x2="272.5" y2="346.5" stroke="#444" stroke-width="1" />
<rect x="199.5" y="296.5" width="73" height="72" fill="none" stroke="#222" stroke-width="1" />
<line x1="203.5" y1="368.5" x2="203.5" y2="367.0" stroke="#222" stroke-width="0.5" />
<line x1="206.0" y1="368.5" x2="206.0" y2="367.0" stroke="#222" stroke-width="0.5" />
<line x1="207.8" y1="368.5" x2="207.8" y2="367.0" stroke="#222" stroke-width="0.5" />
<line x1="209.1" y1="368.5" x2="209.1" y2="367.0" stroke="#222" stroke-width="0.5" />
<line x1="210.3" y1="368.5" x2="210.3" y2="367.0" stroke="#222" stroke-width="0.5" />
<line x1="211.5" y1="368.5" x2="211.5" y2="367.0" stroke="#222" stroke-width="0.5" />
<line x1="212.8" y1="368.5" x2="212.8" y2="367.0" stroke="#222" stroke-width="0.5" />
<line x1="214.3" y1="368.5" x2="214.3" y2="367.0" stroke="#222" stroke-width="0.5" />
<line x1="216.5" y1="368.5" x2="216.5" y2="367.0" stroke="#222" stroke-width="0.5" />
<line x1="221.5" y1="368.5" x2="221.5" y2="367.0" stroke="#222" stroke-width="0.5" />
<line x1="226.5" y1="368.5" x2="226.5" y2="367.0" stroke="#222" stroke-width="0.5" />
<line x1="229.5" y1="368.5" x2="229.5" y2="367.0" stroke="#222" stroke-width="0.5" />
<line x1="231.5" y1="368.5" x2="231.5" y2="367.0" stroke="#222" stroke-width="0.5" />
<line x1="233.0" y1="368.5" x2="233.0" y2="367.0" stroke="#222" stroke-width="0.5" />
<line x1="234.2" y1="368.5" x2="234.2" y2="367.0" stroke="#222" stroke-width="0.5" />
<line x1="235.2" y1="368.5" x2="235.2" y2="367.0" stroke="#222" stroke-width="0.5" />
<line x1="240.5" y1="368.5" x2="240.5" y2="367.0" stroke="#222" stroke-width="0.5" />
<line x1="244.5" y1="368.5" x2="244.5" y2="367.0" stroke="#222" stroke-width="0.5" />
<line x1="247.5" y1="368.5" x2="247.5" y2="367.0" stroke="#222" stroke-width="0.5" />
<line x1="249.5" y1="368.5" x2="249.5" y2="367.0" stroke="#222" stroke-width="0.5" />
<line x1="251.0" y1="368.5" x2="251.0" y2="367.0" stroke="#222" stroke-width="0.5" />
<line x1="252.2" y1="368.5" x2="252.2" y2="367.0" stroke="#222" stroke-width="0.5" />
<line x1="253.2" y1="368.5" x2="253.2" y2="367.0" stroke="#222" stroke-width="0.5" />
<line x1="257.5" y1="368.5" x2="257.5" y2="367.0" stroke="#222" stroke-width="0.5" />
<line x1="261.5" y1="368.5" x2="261.5" y2="367.0" stroke="#222" stroke-width="0.5" />
<line x1="264.5" y1="368.5" x2="264.5" y2="367.0" stroke="#222" stroke-width="0.5" />
<line x1="266.5" y1="368.5" x2="266.5" y2="367.0" stroke="#222" stroke-width="0.5" />
<line x1="268.0" y1="368.5" x2="268.0" y2="367.0" stroke="#222" stroke-width="0.5" />
<line x1="269.0" y1="368.5" x2="269.0" y2="367.0" stroke="#222" stroke-width="0.5" />
<line x1="199.5" y1="366.5" x2="201.0" y2="366.5" stroke="#222" stroke-width="0.5" />
<line x1="199.5" y1="363.5" x2="201.0" y2="363.5" stroke="#222" stroke-width="0.5" />
<line x1="199.5" y1="361.5" x2="201.0" y2="361.5" stroke="#222" stroke-width="0.5" />
<line x1="199.5" y1="359.5" x2="201.0" y2="359.5" stroke="#222" stroke-width="0.5" />
<line x1="199.5" y1="358.0" x2="201.0" y2="358.0" stroke="#222" stroke-width="0.5" />
<line x1="199.5" y1="356.7" x2="201.0" y2="356.7" stroke="#222" stroke-width="0.5" />
<line x1="199.5" y1="355.5" x2="201.0" y2="355.5" stroke="#222" stroke-width="0.5" />
<line x1="199.5" y1="354.3" x2="201.0" y2="354.3" stroke="#222" stroke-width="0.5" />
<line x1="199.5" y1="352.9" x2="201.0" y2="352.9" stroke="#222" stroke-width="0.5" />
<line x1="199.5" y1="351.5" x2="201.0" y2="351.5" stroke="#222" stroke-width="0.5" />
<line x1="199.5" y1="349.5" x2="201.0" y2="349.5" stroke="#222" stroke-width="0.5" />
<line x1="199.5" y1="344.5" x2="201.0" y2="344.5" stroke="#222" stroke-width="0.5" />
<line x1="199.5" y1="339.5" x2="201.0" y2="339.5" stroke="#222" stroke-width="0.5" />
<line x1="199.5" y1="335.5" x2="201.0" y2="335.5" stroke="#222" stroke-width="0.5" />
<line x1="199.5" y1="331.5" x2="201.0" y2="331.5" stroke="#222" stroke-width="0.5" />
<line x1="199.5" y1="328.5" x2="201.0" y2="328.5" stroke="#222" stroke-width="0.5" />
<line x1="199.5" y1="326.5" x2="201.0" y2="326.5" stroke="#222" stroke-width="0.5" />
<line x1="199.5" y1="324.5" x2="201.0" y2="324.5" stroke="#222" stroke-width="0.5" />
<line x1="199.5" y1="319.5" x2="201.0" y2="319.5" stroke="#222" stroke-width="0.5" />
<line x1="199.5" y1="315.5" x2="201.0" y2="315.5" stroke="#222" stroke-width="0.5" />
<line x1="199.5" y1="312.5" x2="201.0" y2="312.5" stroke="#222" stroke-width="0.5" />
<line x1="199.5" y1="310.5" x2="201.0" y2="310.5" stroke="#222" stroke-width="0.5" />
<line x1="199.5" y1="308.5" x2="201.0" y2="308.5" stroke="#222" stroke-width="0.5" />
<line x1="199.5" y1="306.5" x2="201.0" y2="306.5" stroke="#222" stroke-width="0.5" />
<rect x="199.2" y="348" width="1.6" height="8" fill="#222" opacity="0.75"/>
<rect x="207.5" y="367.2" width="9" height="1.6" fill="#222" opacity="0.6"/>
<text font-size="5.2" fill="#4f5666" x="202.4" y="304.4" style="stroke:none">Q1</text>
<text font-size="5.2" fill="#4f5666" x="202.4" y="310.6" style="stroke:none">7,44</text>
<text font-size="5.2" text-anchor="end" fill="#4f5666" x="269.3" y="304.4" style="stroke:none">Q2</text>
<text font-size="5.2" text-anchor="end" fill="#4f5666" x="269.3" y="310.6" style="stroke:none">29,5</text>
<text font-size="5.2" text-anchor="end" fill="#4f5666" x="269.3" y="358.4" style="stroke:none">Q3</text>
<text font-size="5.2" text-anchor="end" fill="#4f5666" x="269.3" y="365" style="stroke:none">0,73</text>
<text font-size="5.2" fill="#4f5666" x="202.4" y="358.4" style="stroke:none">Q4</text>
<text font-size="5.2" fill="#4f5666" x="202.4" y="365" style="stroke:none">62,3</text>
<text font-size="6.3" text-anchor="middle" x="211.8" y="380.2" style="stroke-width:0.15px">0</text>
<text font-size="6.3" text-anchor="middle" x="230.9" y="380.2" style="stroke-width:0.15px">10<tspan font-size="4.2" dy="-2.8">3</tspan></text>
<text font-size="6.3" text-anchor="middle" x="249.4" y="380.2" style="stroke-width:0.15px">10<tspan font-size="4.2" dy="-2.8">4</tspan></text>
<text font-size="6.3" text-anchor="middle" x="265.4" y="380.2" style="stroke-width:0.15px">10<tspan font-size="4.2" dy="-2.8">5</tspan></text>
<text font-size="6.3" text-anchor="end" x="33.8" y="315.4" style="stroke-width:0.15px">10<tspan font-size="4.2" dy="-2.8">4</tspan></text>
<text font-size="6.3" text-anchor="end" x="33.8" y="332.9" style="stroke-width:0.15px">10<tspan font-size="4.2" dy="-2.8">3</tspan></text>
<text font-size="6.3" text-anchor="end" x="33" y="355.8" style="stroke-width:0.15px">0</text>
<line x1="21.2" y1="383.8" x2="21.2" y2="320.5" stroke="#111" stroke-width="1.1" marker-end="url(#ah)"/>
<line x1="20.7" y1="383.8" x2="80.5" y2="383.8" stroke="#111" stroke-width="1.1" marker-end="url(#ah)"/>
<text font-size="8.6" text-anchor="middle" textLength="50" lengthAdjust="spacingAndGlyphs" transform="translate(15.896,358.8) rotate(-90)" style="stroke-width:0.36px">TO-PRO-3 (APC)</text>
<text font-size="8.6" textLength="75" lengthAdjust="spacingAndGlyphs" x="21.2" y="395.6" style="stroke-width:0.36px">Annexine V (pacific blue)</text>
<text font-size="8.6" text-anchor="middle" textLength="69" lengthAdjust="spacingAndGlyphs" transform="translate(291.096,332) rotate(-90)" style="stroke-width:0.36px"><tspan font-style="italic">E2F3</tspan><tspan font-size="5.4" dy="-2.8">mut</tspan><tspan dy="2.8"> apoptosis (%)</tspan></text>
<line x1="311.5" y1="291.2" x2="311.5" y2="370.8" stroke="#222" stroke-width="1" />
<line x1="308.8" y1="370.5" x2="311.8" y2="370.5" stroke="#222" stroke-width="1" />
<text font-size="8.0" text-anchor="end" x="306" y="373.18" >0</text>
<line x1="308.8" y1="355.5" x2="311.8" y2="355.5" stroke="#222" stroke-width="1" />
<text font-size="8.0" text-anchor="end" x="306" y="357.98" >10</text>
<line x1="308.8" y1="339.5" x2="311.8" y2="339.5" stroke="#222" stroke-width="1" />
<text font-size="8.0" text-anchor="end" x="306" y="342.78" >20</text>
<line x1="308.8" y1="324.5" x2="311.8" y2="324.5" stroke="#222" stroke-width="1" />
<text font-size="8.0" text-anchor="end" x="306" y="327.58" >30</text>
<line x1="308.8" y1="309.5" x2="311.8" y2="309.5" stroke="#222" stroke-width="1" />
<text font-size="8.0" text-anchor="end" x="306" y="312.38" >40</text>
<line x1="308.8" y1="294.5" x2="311.8" y2="294.5" stroke="#222" stroke-width="1" />
<text font-size="8.0" text-anchor="end" x="306" y="297.18" >50</text>
<rect x="312.5" y="320.8" width="18.3" height="49.5" fill="#6a7081" />
<rect x="333.3" y="320" width="19.2" height="50.3" fill="#2ba7df" />
<line x1="311.3" y1="370.5" x2="353.5" y2="370.5" stroke="#222" stroke-width="1" />
<line x1="321.5" y1="370.3" x2="321.5" y2="373.6" stroke="#222" stroke-width="1" />
<line x1="342.5" y1="370.3" x2="342.5" y2="373.6" stroke="#222" stroke-width="1" />
<line x1="321.8" y1="317" x2="321.8" y2="325" stroke="#222" stroke-width="0.9" />
<line x1="317.3" y1="317" x2="326.3" y2="317" stroke="#222" stroke-width="0.9" />
<line x1="317.3" y1="325" x2="326.3" y2="325" stroke="#222" stroke-width="0.9" />
<line x1="342.5" y1="309.3" x2="342.5" y2="331.3" stroke="#222" stroke-width="0.9" />
<line x1="338.0" y1="309.3" x2="347.0" y2="309.3" stroke="#222" stroke-width="0.9" />
<line x1="338.0" y1="331.3" x2="347.0" y2="331.3" stroke="#222" stroke-width="0.9" />
<circle cx="313.8" cy="319.5" r="1.65" fill="#111"/>
<circle cx="318" cy="318" r="1.65" fill="#111"/>
<circle cx="321.8" cy="319.5" r="1.65" fill="#111"/>
<circle cx="325.5" cy="318" r="1.65" fill="#111"/>
<circle cx="329.5" cy="319" r="1.65" fill="#111"/>
<circle cx="321.8" cy="324.5" r="1.65" fill="#111"/>
<circle cx="321.8" cy="328.8" r="1.65" fill="#111"/>
<circle cx="342.5" cy="300.5" r="1.65" fill="#111"/>
<circle cx="342.5" cy="318.8" r="1.65" fill="#111"/>
<circle cx="337" cy="322" r="1.65" fill="#111"/>
<circle cx="347.5" cy="322" r="1.65" fill="#111"/>
<circle cx="342.5" cy="325.5" r="1.65" fill="#111"/>
<circle cx="342.5" cy="333.8" r="1.65" fill="#111"/>
<text font-size="8.4" text-anchor="middle" textLength="11.4" lengthAdjust="spacingAndGlyphs" x="321.9" y="383.3" >NC</text>
<text font-size="8.4" text-anchor="middle" textLength="44" lengthAdjust="spacingAndGlyphs" x="353.2" y="383.3" >miR-150-5p</text>
<text font-size="8.4" text-anchor="middle" textLength="19.5" lengthAdjust="spacingAndGlyphs" x="352.3" y="393.2" >mimic</text>
<text transform="translate(6.8,418.2) scale(1.1,1)" font-size="10.6" font-weight="bold" style="stroke-width:0.45px;stroke:#111" fill="#111">G</text>
<text font-size="9.4" textLength="22" lengthAdjust="spacingAndGlyphs" x="55" y="418.8" >E2F3</text>
<text font-size="9.4" textLength="28.8" lengthAdjust="spacingAndGlyphs" x="130" y="418.8" >BIRC5</text>
<text font-size="9.4" textLength="33.2" lengthAdjust="spacingAndGlyphs" x="206.2" y="418.8" >CCNE1</text>
<text font-size="9.4" textLength="25.3" lengthAdjust="spacingAndGlyphs" x="289.5" y="418.8" >EZH2</text>
<text font-size="8.6" text-anchor="middle" textLength="35.5" lengthAdjust="spacingAndGlyphs" transform="translate(16.796,463.5) rotate(-90)" style="stroke-width:0.36px">RQ (mRNA)</text>
<line x1="38.5" y1="432.3" x2="38.5" y2="495.0" stroke="#222" stroke-width="1" />
<line x1="35.699999999999996" y1="494.5" x2="38.9" y2="494.5" stroke="#222" stroke-width="1" />
<text font-size="8.0" text-anchor="end" x="32.6" y="497.38" >0.0</text>
<line x1="35.699999999999996" y1="479.5" x2="38.9" y2="479.5" stroke="#222" stroke-width="1" />
<text font-size="8.0" text-anchor="end" x="32.6" y="482.5" >0.3</text>
<line x1="35.699999999999996" y1="464.5" x2="38.9" y2="464.5" stroke="#222" stroke-width="1" />
<text font-size="8.0" text-anchor="end" x="32.6" y="467.62" >0.6</text>
<line x1="35.699999999999996" y1="449.5" x2="38.9" y2="449.5" stroke="#222" stroke-width="1" />
<text font-size="8.0" text-anchor="end" x="32.6" y="452.74" >0.9</text>
<line x1="35.699999999999996" y1="434.5" x2="38.9" y2="434.5" stroke="#222" stroke-width="1" />
<text font-size="8.0" text-anchor="end" x="32.6" y="437.86" >1.2</text>
<rect x="41.199999999999996" y="445.8" width="10.6" height="48.7" fill="#6a7081" />
<line x1="46.5" y1="446.1" x2="46.5" y2="439.6" stroke="#6a7081" stroke-width="1" />
<line x1="43.7" y1="439.5" x2="49.3" y2="439.5" stroke="#6a7081" stroke-width="1" />
<rect x="53.3" y="464.2" width="10.5" height="30.3" fill="#2ba7df" />
<line x1="58.5" y1="464.5" x2="58.5" y2="460.8" stroke="#2ba7df" stroke-width="1" />
<line x1="55.75" y1="460.5" x2="61.349999999999994" y2="460.5" stroke="#2ba7df" stroke-width="1" />
<rect x="67.9" y="465.5" width="10.7" height="29.0" fill="#6a7081" />
<line x1="73.5" y1="465.8" x2="73.5" y2="462" stroke="#6a7081" stroke-width="1" />
<line x1="70.45" y1="462.5" x2="76.05" y2="462.5" stroke="#6a7081" stroke-width="1" />
<rect x="79.9" y="470" width="10.7" height="24.5" fill="#2ba7df" />
<line x1="85.5" y1="470.3" x2="85.5" y2="466.8" stroke="#2ba7df" stroke-width="1" />
<line x1="82.45" y1="466.5" x2="88.05" y2="466.5" stroke="#2ba7df" stroke-width="1" />
<line x1="38.4" y1="494.5" x2="93.3" y2="494.5" stroke="#222" stroke-width="1" />
<line x1="52.5" y1="494.5" x2="52.5" y2="497.5" stroke="#222" stroke-width="1" />
<line x1="79.5" y1="494.5" x2="79.5" y2="497.5" stroke="#222" stroke-width="1" />
<line x1="46.8" y1="431.5" x2="73.3" y2="431.5" stroke="#222" stroke-width="1" />
<text font-size="8.2" text-anchor="middle" x="60.05" y="430.90000000000003" style="stroke-width:0.4px">*</text>
<line x1="46.8" y1="437.5" x2="58.3" y2="437.5" stroke="#222" stroke-width="1" />
<text font-size="8.2" text-anchor="middle" x="52.55" y="437.1" style="stroke-width:0.4px">*</text>
<line x1="117.5" y1="432.3" x2="117.5" y2="495.0" stroke="#222" stroke-width="1" />
<line x1="114.3" y1="494.5" x2="117.5" y2="494.5" stroke="#222" stroke-width="1" />
<text font-size="8.0" text-anchor="end" x="111.2" y="497.38" >0.0</text>
<line x1="114.3" y1="479.5" x2="117.5" y2="479.5" stroke="#222" stroke-width="1" />
<text font-size="8.0" text-anchor="end" x="111.2" y="482.5" >0.3</text>
<line x1="114.3" y1="464.5" x2="117.5" y2="464.5" stroke="#222" stroke-width="1" />
<text font-size="8.0" text-anchor="end" x="111.2" y="467.62" >0.6</text>
<line x1="114.3" y1="449.5" x2="117.5" y2="449.5" stroke="#222" stroke-width="1" />
<text font-size="8.0" text-anchor="end" x="111.2" y="452.74" >0.9</text>
<line x1="114.3" y1="434.5" x2="117.5" y2="434.5" stroke="#222" stroke-width="1" />
<text font-size="8.0" text-anchor="end" x="111.2" y="437.86" >1.2</text>
<rect x="119.8" y="445.8" width="10.6" height="48.7" fill="#6a7081" />
<line x1="125.5" y1="446.1" x2="125.5" y2="440" stroke="#6a7081" stroke-width="1" />
<line x1="122.3" y1="440.5" x2="127.89999999999999" y2="440.5" stroke="#6a7081" stroke-width="1" />
<rect x="131.9" y="464.2" width="10.5" height="30.3" fill="#2ba7df" />
<line x1="137.5" y1="464.5" x2="137.5" y2="461.2" stroke="#2ba7df" stroke-width="1" />
<line x1="134.35" y1="461.5" x2="139.95000000000002" y2="461.5" stroke="#2ba7df" stroke-width="1" />
<rect x="146.5" y="470.5" width="10.7" height="24.0" fill="#6a7081" />
<line x1="151.5" y1="470.8" x2="151.5" y2="466.3" stroke="#6a7081" stroke-width="1" />
<line x1="149.04999999999998" y1="466.5" x2="154.65" y2="466.5" stroke="#6a7081" stroke-width="1" />
<rect x="158.5" y="475" width="10.7" height="19.5" fill="#2ba7df" />
<line x1="163.5" y1="475.3" x2="163.5" y2="471.3" stroke="#2ba7df" stroke-width="1" />
<line x1="161.04999999999998" y1="471.5" x2="166.65" y2="471.5" stroke="#2ba7df" stroke-width="1" />
<line x1="117.0" y1="494.5" x2="171.9" y2="494.5" stroke="#222" stroke-width="1" />
<line x1="131.5" y1="494.5" x2="131.5" y2="497.5" stroke="#222" stroke-width="1" />
<line x1="157.5" y1="494.5" x2="157.5" y2="497.5" stroke="#222" stroke-width="1" />
<line x1="125" y1="431.5" x2="152" y2="431.5" stroke="#222" stroke-width="1" />
<text font-size="8.2" text-anchor="middle" x="138.5" y="430.90000000000003" style="stroke-width:0.4px">**</text>
<line x1="125" y1="438.5" x2="136.3" y2="438.5" stroke="#222" stroke-width="1" />
<text font-size="8.2" text-anchor="middle" x="130.65" y="437.6" style="stroke-width:0.4px">**</text>
<line x1="196.5" y1="432.3" x2="196.5" y2="495.0" stroke="#222" stroke-width="1" />
<line x1="193.0" y1="494.5" x2="196.2" y2="494.5" stroke="#222" stroke-width="1" />
<text font-size="8.0" text-anchor="end" x="189.89999999999998" y="497.38" >0.0</text>
<line x1="193.0" y1="479.5" x2="196.2" y2="479.5" stroke="#222" stroke-width="1" />
<text font-size="8.0" text-anchor="end" x="189.89999999999998" y="482.5" >0.3</text>
<line x1="193.0" y1="464.5" x2="196.2" y2="464.5" stroke="#222" stroke-width="1" />
<text font-size="8.0" text-anchor="end" x="189.89999999999998" y="467.62" >0.6</text>
<line x1="193.0" y1="449.5" x2="196.2" y2="449.5" stroke="#222" stroke-width="1" />
<text font-size="8.0" text-anchor="end" x="189.89999999999998" y="452.74" >0.9</text>
<line x1="193.0" y1="434.5" x2="196.2" y2="434.5" stroke="#222" stroke-width="1" />
<text font-size="8.0" text-anchor="end" x="189.89999999999998" y="437.86" >1.2</text>
<rect x="198.5" y="445.8" width="10.6" height="48.7" fill="#6a7081" />
<line x1="203.5" y1="446.1" x2="203.5" y2="440" stroke="#6a7081" stroke-width="1" />
<line x1="200.99999999999997" y1="440.5" x2="206.6" y2="440.5" stroke="#6a7081" stroke-width="1" />
<rect x="210.6" y="467" width="10.5" height="27.5" fill="#2ba7df" />
<line x1="215.5" y1="467.3" x2="215.5" y2="462.5" stroke="#2ba7df" stroke-width="1" />
<line x1="213.04999999999998" y1="462.5" x2="218.65" y2="462.5" stroke="#2ba7df" stroke-width="1" />
<rect x="225.2" y="481.2" width="10.7" height="13.3" fill="#6a7081" />
<line x1="230.5" y1="481.5" x2="230.5" y2="479.2" stroke="#6a7081" stroke-width="1" />
<line x1="227.74999999999997" y1="479.5" x2="233.35" y2="479.5" stroke="#6a7081" stroke-width="1" />
<rect x="237.2" y="482" width="10.7" height="12.5" fill="#2ba7df" />
<line x1="242.5" y1="482.3" x2="242.5" y2="478.3" stroke="#2ba7df" stroke-width="1" />
<line x1="239.74999999999997" y1="478.5" x2="245.35" y2="478.5" stroke="#2ba7df" stroke-width="1" />
<line x1="195.7" y1="494.5" x2="250.6" y2="494.5" stroke="#222" stroke-width="1" />
<line x1="209.5" y1="494.5" x2="209.5" y2="497.5" stroke="#222" stroke-width="1" />
<line x1="236.5" y1="494.5" x2="236.5" y2="497.5" stroke="#222" stroke-width="1" />
<line x1="203.8" y1="431.5" x2="230.8" y2="431.5" stroke="#222" stroke-width="1" />
<text font-size="8.2" text-anchor="middle" x="217.3" y="430.90000000000003" style="stroke-width:0.4px">**</text>
<line x1="203.8" y1="437.5" x2="215.5" y2="437.5" stroke="#222" stroke-width="1" />
<text font-size="8.2" text-anchor="middle" x="209.65" y="437.1" style="stroke-width:0.4px">*</text>
<line x1="215.8" y1="460.5" x2="242.5" y2="460.5" stroke="#222" stroke-width="1" />
<text font-size="8.2" text-anchor="middle" x="229.15" y="459.6" style="stroke-width:0.4px">*</text>
<line x1="274.5" y1="432.3" x2="274.5" y2="495.0" stroke="#222" stroke-width="1" />
<line x1="271.40000000000003" y1="494.5" x2="274.6" y2="494.5" stroke="#222" stroke-width="1" />
<text font-size="8.0" text-anchor="end" x="268.3" y="497.38" >0.0</text>
<line x1="271.40000000000003" y1="479.5" x2="274.6" y2="479.5" stroke="#222" stroke-width="1" />
<text font-size="8.0" text-anchor="end" x="268.3" y="482.5" >0.3</text>
<line x1="271.40000000000003" y1="464.5" x2="274.6" y2="464.5" stroke="#222" stroke-width="1" />
<text font-size="8.0" text-anchor="end" x="268.3" y="467.62" >0.6</text>
<line x1="271.40000000000003" y1="449.5" x2="274.6" y2="449.5" stroke="#222" stroke-width="1" />
<text font-size="8.0" text-anchor="end" x="268.3" y="452.74" >0.9</text>
<line x1="271.40000000000003" y1="434.5" x2="274.6" y2="434.5" stroke="#222" stroke-width="1" />
<text font-size="8.0" text-anchor="end" x="268.3" y="437.86" >1.2</text>
<rect x="276.90000000000003" y="445.8" width="10.6" height="48.7" fill="#6a7081" />
<line x1="282.5" y1="446.1" x2="282.5" y2="440" stroke="#6a7081" stroke-width="1" />
<line x1="279.40000000000003" y1="440.5" x2="285.00000000000006" y2="440.5" stroke="#6a7081" stroke-width="1" />
<rect x="289.0" y="450" width="10.5" height="44.5" fill="#2ba7df" />
<line x1="294.5" y1="450.3" x2="294.5" y2="441.3" stroke="#2ba7df" stroke-width="1" />
<line x1="291.45" y1="441.5" x2="297.05" y2="441.5" stroke="#2ba7df" stroke-width="1" />
<rect x="303.6" y="457" width="10.7" height="37.5" fill="#6a7081" />
<line x1="308.5" y1="457.3" x2="308.5" y2="451.3" stroke="#6a7081" stroke-width="1" />
<line x1="306.15000000000003" y1="451.5" x2="311.75000000000006" y2="451.5" stroke="#6a7081" stroke-width="1" />
<rect x="315.6" y="472.5" width="10.7" height="22.0" fill="#2ba7df" />
<line x1="320.5" y1="472.8" x2="320.5" y2="469.3" stroke="#2ba7df" stroke-width="1" />
<line x1="318.15000000000003" y1="469.5" x2="323.75000000000006" y2="469.5" stroke="#2ba7df" stroke-width="1" />
<line x1="274.1" y1="494.5" x2="329.0" y2="494.5" stroke="#222" stroke-width="1" />
<line x1="288.5" y1="494.5" x2="288.5" y2="497.5" stroke="#222" stroke-width="1" />
<line x1="314.5" y1="494.5" x2="314.5" y2="497.5" stroke="#222" stroke-width="1" />
<line x1="295.8" y1="438.5" x2="322.5" y2="438.5" stroke="#222" stroke-width="1" />
<text font-size="8.2" text-anchor="middle" x="309.15" y="437.90000000000003" style="stroke-width:0.4px">*</text>
<text transform="translate(8.2,518.9) scale(1.1,1)" font-size="10.6" font-weight="bold" style="stroke-width:0.45px;stroke:#111" fill="#111">I</text>
<text font-size="9.4" textLength="22" lengthAdjust="spacingAndGlyphs" x="53" y="519.5" >E2F3</text>
<text font-size="9.4" textLength="32.6" lengthAdjust="spacingAndGlyphs" x="127.5" y="519.5" >Survivin</text>
<text font-size="9.4" textLength="38.8" lengthAdjust="spacingAndGlyphs" x="202.5" y="519.5" >Cyclin E1</text>
<text font-size="9.4" textLength="25.6" lengthAdjust="spacingAndGlyphs" x="288.8" y="519.5" >EZH2</text>
<text font-size="8.6" text-anchor="middle" textLength="39" lengthAdjust="spacingAndGlyphs" transform="translate(16.796,563) rotate(-90)" style="stroke-width:0.36px">RQ (protein)</text>
<line x1="38.5" y1="532.3" x2="38.5" y2="593.5" stroke="#222" stroke-width="1" />
<line x1="35.699999999999996" y1="593.5" x2="38.9" y2="593.5" stroke="#222" stroke-width="1" />
<text font-size="8.0" text-anchor="end" x="32.6" y="595.88" >0.0</text>
<line x1="35.699999999999996" y1="578.5" x2="38.9" y2="578.5" stroke="#222" stroke-width="1" />
<text font-size="8.0" text-anchor="end" x="32.6" y="581.38" >0.3</text>
<line x1="35.699999999999996" y1="564.5" x2="38.9" y2="564.5" stroke="#222" stroke-width="1" />
<text font-size="8.0" text-anchor="end" x="32.6" y="566.88" >0.6</text>
<line x1="35.699999999999996" y1="549.5" x2="38.9" y2="549.5" stroke="#222" stroke-width="1" />
<text font-size="8.0" text-anchor="end" x="32.6" y="552.38" >0.9</text>
<line x1="35.699999999999996" y1="535.5" x2="38.9" y2="535.5" stroke="#222" stroke-width="1" />
<text font-size="8.0" text-anchor="end" x="32.6" y="537.88" >1.2</text>
<rect x="41.199999999999996" y="545" width="10.6" height="48" fill="#6a7081" />
<line x1="46.5" y1="545.3" x2="46.5" y2="540" stroke="#6a7081" stroke-width="1" />
<line x1="43.7" y1="540.5" x2="49.3" y2="540.5" stroke="#6a7081" stroke-width="1" />
<rect x="53.3" y="553.8" width="10.5" height="39.2" fill="#2ba7df" />
<line x1="58.5" y1="554.0999999999999" x2="58.5" y2="549.2" stroke="#2ba7df" stroke-width="1" />
<line x1="55.75" y1="549.5" x2="61.349999999999994" y2="549.5" stroke="#2ba7df" stroke-width="1" />
<rect x="67.9" y="577.5" width="10.7" height="15.5" fill="#6a7081" />
<line x1="73.5" y1="577.8" x2="73.5" y2="574.2" stroke="#6a7081" stroke-width="1" />
<line x1="70.45" y1="574.5" x2="76.05" y2="574.5" stroke="#6a7081" stroke-width="1" />
<rect x="79.9" y="573.8" width="10.7" height="19.2" fill="#2ba7df" />
<line x1="85.5" y1="574.0999999999999" x2="85.5" y2="565.5" stroke="#2ba7df" stroke-width="1" />
<line x1="82.45" y1="565.5" x2="88.05" y2="565.5" stroke="#2ba7df" stroke-width="1" />
<line x1="38.4" y1="593.5" x2="93.3" y2="593.5" stroke="#222" stroke-width="1" />
<line x1="52.5" y1="593" x2="52.5" y2="596" stroke="#222" stroke-width="1" />
<line x1="79.5" y1="593" x2="79.5" y2="596" stroke="#222" stroke-width="1" />
<line x1="46.8" y1="531.5" x2="72.5" y2="531.5" stroke="#222" stroke-width="1" />
<text font-size="8.2" text-anchor="middle" x="59.65" y="531.4" style="stroke-width:0.4px">***</text>
<line x1="46.8" y1="537.5" x2="58" y2="537.5" stroke="#222" stroke-width="1" />
<text font-size="8.2" text-anchor="middle" x="52.4" y="537.1" style="stroke-width:0.4px">*</text>
<line x1="58" y1="545.5" x2="84.3" y2="545.5" stroke="#222" stroke-width="1" />
<text font-size="8.2" text-anchor="middle" x="71.15" y="544.6" style="stroke-width:0.4px">*</text>
<line x1="117.5" y1="532.3" x2="117.5" y2="593.5" stroke="#222" stroke-width="1" />
<line x1="114.3" y1="593.5" x2="117.5" y2="593.5" stroke="#222" stroke-width="1" />
<text font-size="8.0" text-anchor="end" x="111.2" y="595.88" >0.0</text>
<line x1="114.3" y1="578.5" x2="117.5" y2="578.5" stroke="#222" stroke-width="1" />
<text font-size="8.0" text-anchor="end" x="111.2" y="581.38" >0.3</text>
<line x1="114.3" y1="564.5" x2="117.5" y2="564.5" stroke="#222" stroke-width="1" />
<text font-size="8.0" text-anchor="end" x="111.2" y="566.88" >0.6</text>
<line x1="114.3" y1="549.5" x2="117.5" y2="549.5" stroke="#222" stroke-width="1" />
<text font-size="8.0" text-anchor="end" x="111.2" y="552.38" >0.9</text>
<line x1="114.3" y1="535.5" x2="117.5" y2="535.5" stroke="#222" stroke-width="1" />
<text font-size="8.0" text-anchor="end" x="111.2" y="537.88" >1.2</text>
<rect x="119.8" y="543.8" width="10.6" height="49.2" fill="#6a7081" />
<line x1="125.5" y1="544.0999999999999" x2="125.5" y2="539.2" stroke="#6a7081" stroke-width="1" />
<line x1="122.3" y1="539.5" x2="127.89999999999999" y2="539.5" stroke="#6a7081" stroke-width="1" />
<rect x="131.9" y="562" width="10.5" height="31" fill="#2ba7df" />
<line x1="137.5" y1="562.3" x2="137.5" y2="557.5" stroke="#2ba7df" stroke-width="1" />
<line x1="134.35" y1="557.5" x2="139.95000000000002" y2="557.5" stroke="#2ba7df" stroke-width="1" />
<rect x="146.5" y="568" width="10.7" height="25" fill="#6a7081" />
<line x1="151.5" y1="568.3" x2="151.5" y2="561.8" stroke="#6a7081" stroke-width="1" />
<line x1="149.04999999999998" y1="561.5" x2="154.65" y2="561.5" stroke="#6a7081" stroke-width="1" />
<rect x="158.5" y="566.8" width="10.7" height="26.2" fill="#2ba7df" />
<line x1="163.5" y1="567.0999999999999" x2="163.5" y2="560.8" stroke="#2ba7df" stroke-width="1" />
<line x1="161.04999999999998" y1="560.5" x2="166.65" y2="560.5" stroke="#2ba7df" stroke-width="1" />
<line x1="117.0" y1="593.5" x2="171.9" y2="593.5" stroke="#222" stroke-width="1" />
<line x1="131.5" y1="593" x2="131.5" y2="596" stroke="#222" stroke-width="1" />
<line x1="157.5" y1="593" x2="157.5" y2="596" stroke="#222" stroke-width="1" />
<line x1="125" y1="530.5" x2="152" y2="530.5" stroke="#222" stroke-width="1" />
<text font-size="8.2" text-anchor="middle" x="138.5" y="530.1" style="stroke-width:0.4px">**</text>
<line x1="125" y1="536.5" x2="136.3" y2="536.5" stroke="#222" stroke-width="1" />
<text font-size="8.2" text-anchor="middle" x="130.65" y="535.9" style="stroke-width:0.4px">**</text>
<line x1="196.5" y1="532.3" x2="196.5" y2="593.5" stroke="#222" stroke-width="1" />
<line x1="193.0" y1="593.5" x2="196.2" y2="593.5" stroke="#222" stroke-width="1" />
<text font-size="8.0" text-anchor="end" x="189.89999999999998" y="595.88" >0.0</text>
<line x1="193.0" y1="578.5" x2="196.2" y2="578.5" stroke="#222" stroke-width="1" />
<text font-size="8.0" text-anchor="end" x="189.89999999999998" y="581.38" >0.3</text>
<line x1="193.0" y1="564.5" x2="196.2" y2="564.5" stroke="#222" stroke-width="1" />
<text font-size="8.0" text-anchor="end" x="189.89999999999998" y="566.88" >0.6</text>
<line x1="193.0" y1="549.5" x2="196.2" y2="549.5" stroke="#222" stroke-width="1" />
<text font-size="8.0" text-anchor="end" x="189.89999999999998" y="552.38" >0.9</text>
<line x1="193.0" y1="535.5" x2="196.2" y2="535.5" stroke="#222" stroke-width="1" />
<text font-size="8.0" text-anchor="end" x="189.89999999999998" y="537.88" >1.2</text>
<rect x="198.5" y="544.2" width="10.6" height="48.8" fill="#6a7081" />
<line x1="203.5" y1="544.5" x2="203.5" y2="539.2" stroke="#6a7081" stroke-width="1" />
<line x1="200.99999999999997" y1="539.5" x2="206.6" y2="539.5" stroke="#6a7081" stroke-width="1" />
<rect x="210.6" y="551.2" width="10.5" height="41.8" fill="#2ba7df" />
<line x1="215.5" y1="551.5" x2="215.5" y2="539.2" stroke="#2ba7df" stroke-width="1" />
<line x1="213.04999999999998" y1="539.5" x2="218.65" y2="539.5" stroke="#2ba7df" stroke-width="1" />
<rect x="225.2" y="574.5" width="10.7" height="18.5" fill="#6a7081" />
<line x1="230.5" y1="574.8" x2="230.5" y2="572.5" stroke="#6a7081" stroke-width="1" />
<line x1="227.74999999999997" y1="572.5" x2="233.35" y2="572.5" stroke="#6a7081" stroke-width="1" />
<rect x="237.2" y="568.8" width="10.7" height="24.2" fill="#2ba7df" />
<line x1="242.5" y1="569.0999999999999" x2="242.5" y2="558.8" stroke="#2ba7df" stroke-width="1" />
<line x1="239.74999999999997" y1="558.5" x2="245.35" y2="558.5" stroke="#2ba7df" stroke-width="1" />
<line x1="195.7" y1="593.5" x2="250.6" y2="593.5" stroke="#222" stroke-width="1" />
<line x1="209.5" y1="593" x2="209.5" y2="596" stroke="#222" stroke-width="1" />
<line x1="236.5" y1="593" x2="236.5" y2="596" stroke="#222" stroke-width="1" />
<line x1="204.3" y1="537.5" x2="230.8" y2="537.5" stroke="#222" stroke-width="1" />
<text font-size="8.2" text-anchor="middle" x="217.55" y="537.1" style="stroke-width:0.4px">*</text>
<line x1="274.5" y1="532.3" x2="274.5" y2="593.5" stroke="#222" stroke-width="1" />
<line x1="271.40000000000003" y1="593.5" x2="274.6" y2="593.5" stroke="#222" stroke-width="1" />
<text font-size="8.0" text-anchor="end" x="268.3" y="595.88" >0.0</text>
<line x1="271.40000000000003" y1="578.5" x2="274.6" y2="578.5" stroke="#222" stroke-width="1" />
<text font-size="8.0" text-anchor="end" x="268.3" y="581.38" >0.5</text>
<line x1="271.40000000000003" y1="564.5" x2="274.6" y2="564.5" stroke="#222" stroke-width="1" />
<text font-size="8.0" text-anchor="end" x="268.3" y="566.88" >1.0</text>
<line x1="271.40000000000003" y1="549.5" x2="274.6" y2="549.5" stroke="#222" stroke-width="1" />
<text font-size="8.0" text-anchor="end" x="268.3" y="552.38" >1.5</text>
<line x1="271.40000000000003" y1="535.5" x2="274.6" y2="535.5" stroke="#222" stroke-width="1" />
<text font-size="8.0" text-anchor="end" x="268.3" y="537.88" >2.0</text>
<rect x="276.90000000000003" y="564.2" width="10.6" height="28.8" fill="#6a7081" />
<line x1="282.5" y1="564.5" x2="282.5" y2="561.2" stroke="#6a7081" stroke-width="1" />
<line x1="279.40000000000003" y1="561.5" x2="285.00000000000006" y2="561.5" stroke="#6a7081" stroke-width="1" />
<rect x="289.0" y="553.8" width="10.5" height="39.2" fill="#2ba7df" />
<line x1="294.5" y1="554.0999999999999" x2="294.5" y2="546.2" stroke="#2ba7df" stroke-width="1" />
<line x1="291.45" y1="546.5" x2="297.05" y2="546.5" stroke="#2ba7df" stroke-width="1" />
<rect x="303.6" y="562.5" width="10.7" height="30.5" fill="#6a7081" />
<line x1="308.5" y1="562.8" x2="308.5" y2="558.8" stroke="#6a7081" stroke-width="1" />
<line x1="306.15000000000003" y1="558.5" x2="311.75000000000006" y2="558.5" stroke="#6a7081" stroke-width="1" />
<rect x="315.6" y="565.8" width="10.7" height="27.2" fill="#2ba7df" />
<line x1="320.5" y1="566.0999999999999" x2="320.5" y2="561.8" stroke="#2ba7df" stroke-width="1" />
<line x1="318.15000000000003" y1="561.5" x2="323.75000000000006" y2="561.5" stroke="#2ba7df" stroke-width="1" />
<line x1="274.1" y1="593.5" x2="329.0" y2="593.5" stroke="#222" stroke-width="1" />
<line x1="288.5" y1="593" x2="288.5" y2="596" stroke="#222" stroke-width="1" />
<line x1="314.5" y1="593" x2="314.5" y2="596" stroke="#222" stroke-width="1" />
<text font-size="8.4" text-anchor="middle" textLength="12.4" lengthAdjust="spacingAndGlyphs" x="52.3" y="605.2" >WT</text>
<text font-size="8.4" textLength="30.2" lengthAdjust="spacingAndGlyphs" x="63.2" y="605.2" ><tspan font-style="italic">E2F3</tspan><tspan font-size="6.2" dy="-3">mut</tspan></text>
<text font-size="8.4" text-anchor="middle" textLength="12.4" lengthAdjust="spacingAndGlyphs" x="130.9" y="605.2" >WT</text>
<text font-size="8.4" textLength="30.2" lengthAdjust="spacingAndGlyphs" x="141.8" y="605.2" ><tspan font-style="italic">E2F3</tspan><tspan font-size="6.2" dy="-3">mut</tspan></text>
<text font-size="8.4" text-anchor="middle" textLength="12.4" lengthAdjust="spacingAndGlyphs" x="209.6" y="605.2" >WT</text>
<text font-size="8.4" textLength="30.2" lengthAdjust="spacingAndGlyphs" x="220.5" y="605.2" ><tspan font-style="italic">E2F3</tspan><tspan font-size="6.2" dy="-3">mut</tspan></text>
<text font-size="8.4" text-anchor="middle" textLength="12.4" lengthAdjust="spacingAndGlyphs" x="288.0" y="605.2" >WT</text>
<text font-size="8.4" textLength="30.2" lengthAdjust="spacingAndGlyphs" x="298.90000000000003" y="605.2" ><tspan font-style="italic">E2F3</tspan><tspan font-size="6.2" dy="-3">mut</tspan></text>
<rect x="122" y="615.6" width="5.8" height="5.8" fill="#6a7081" />
<text font-size="7.9" textLength="11.3" lengthAdjust="spacingAndGlyphs" x="131.2" y="621.4" >NC</text>
<rect x="148.8" y="615.6" width="5.8" height="5.8" fill="#2ba7df" />
<text font-size="7.9" textLength="57.5" lengthAdjust="spacingAndGlyphs" x="158.7" y="621.4" >miR-150-5p mimi</text>
<text transform="translate(339.3,418.2) scale(1.1,1)" font-size="10.6" font-weight="bold" style="stroke-width:0.45px;stroke:#111" fill="#111">H</text>
<text font-size="8.6" textLength="12.6" lengthAdjust="spacingAndGlyphs" x="403.3" y="431.9" >WT</text>
<text font-size="8.6" textLength="30" lengthAdjust="spacingAndGlyphs" x="452" y="431.9" >E2F3<tspan font-size="6.2" dy="-3.2" font-style="normal">mut</tspan></text>
<line x1="386.3" y1="437.5" x2="433.4" y2="437.5" stroke="#444" stroke-width="1" />
<line x1="443.8" y1="437.5" x2="490" y2="437.5" stroke="#444" stroke-width="1" />
<text font-size="8.2" textLength="42.3" lengthAdjust="spacingAndGlyphs" x="339.5" y="441.3" >miR-150-5p</text>
<text font-size="8.2" textLength="19.5" lengthAdjust="spacingAndGlyphs" x="350.5" y="451.8" >mimic</text>
<text font-size="8.2" text-anchor="middle" x="398" y="449.6" >–</text>
<text font-size="8.2" text-anchor="middle" x="423.8" y="449.6" >+</text>
<text font-size="8.2" text-anchor="middle" x="452.6" y="449.6" >–</text>
<text font-size="8.2" text-anchor="middle" x="478.5" y="449.6" >+</text>
<text font-size="8.4" textLength="13.8" lengthAdjust="spacingAndGlyphs" x="499.2" y="456.6" >kDa</text>
<clipPath id="cHw0"><rect x="384.4" y="454.1" width="53.5" height="25.1"/></clipPath>
<rect x="384.4" y="454.1" width="53.5" height="25.1" fill="#dedede" />
<g clip-path="url(#cHw0)">
<rect x="386" y="459" width="50" height="17" rx="4" fill="#777" opacity="0.35" filter="url(#b2)"/>
<rect x="387.5" y="461.4" width="21.8" height="11.2" rx="4" fill="#000" opacity="1" filter="url(#b1)"/>
<rect x="389.5" y="463" width="18.0" height="8.4" rx="4" fill="#000" opacity="1" filter="url(#b05)"/>
<rect x="412" y="463.2" width="22.2" height="11.0" rx="4" fill="#000" opacity="1" filter="url(#b1)"/>
<rect x="414" y="464.8" width="18.5" height="8.2" rx="4" fill="#000" opacity="1" filter="url(#b05)"/>
<rect x="405" y="464" width="11" height="8" rx="4.0" fill="#222" opacity="0.7" filter="url(#b2)"/>
</g>
<rect x="384.4" y="454.1" width="53.5" height="25.1" fill="none" stroke="#1c1c1c" stroke-width="1.1" />
<clipPath id="cHm0"><rect x="440.6" y="454.1" width="52" height="25.1"/></clipPath>
<rect x="440.6" y="454.1" width="52" height="25.1" fill="#e0e0e0" />
<g clip-path="url(#cHm0)">
<rect x="442" y="459" width="49" height="16" rx="4" fill="#777" opacity="0.35" filter="url(#b2)"/>
<rect x="442.5" y="461.6" width="21.5" height="10.2" rx="4" fill="#000" opacity="1" filter="url(#b1)"/>
<rect x="444.5" y="463" width="17.9" height="7.6" rx="3.8000000000000114" fill="#000" opacity="1" filter="url(#b05)"/>
<rect x="467.6" y="462.2" width="22.4" height="10.2" rx="4" fill="#000" opacity="1" filter="url(#b1)"/>
<rect x="469.5" y="463.6" width="19.1" height="7.6" rx="3.799999999999983" fill="#000" opacity="1" filter="url(#b05)"/>
<rect x="460" y="463" width="11" height="8" rx="4.0" fill="#222" opacity="0.6" filter="url(#b2)"/>
</g>
<rect x="440.6" y="454.1" width="52" height="25.1" fill="none" stroke="#1c1c1c" stroke-width="1.1" />
<clipPath id="cHw1"><rect x="384.4" y="481.8" width="53.5" height="24.4"/></clipPath>
<rect x="384.4" y="481.8" width="53.5" height="24.4" fill="#d2d2d2" />
<g clip-path="url(#cHw1)">
<rect x="386.5" y="494.6" width="20.0" height="5.4" rx="2.6999999999999886" fill="#000" opacity="1" filter="url(#b1)"/>
<rect x="388" y="495.6" width="13" height="3.6" rx="1.799999999999983" fill="#000" opacity="0.9" filter="url(#b05)"/>
<rect x="414" y="495.8" width="17.5" height="4.0" rx="2.0" fill="#444" opacity="0.6" filter="url(#b1)"/>
<rect x="386" y="500" width="50" height="6" rx="3.0" fill="#999" opacity="0.3" filter="url(#b2)"/>
</g>
<rect x="384.4" y="481.8" width="53.5" height="24.4" fill="none" stroke="#1c1c1c" stroke-width="1.1" />
<clipPath id="cHm1"><rect x="440.6" y="481.8" width="52" height="24.4"/></clipPath>
<rect x="440.6" y="481.8" width="52" height="24.4" fill="#dbdbdb" />
<g clip-path="url(#cHm1)">
<rect x="470" y="496.4" width="19.5" height="3.2" rx="1.6000000000000227" fill="#777" opacity="0.35" filter="url(#b1)"/>
</g>
<rect x="440.6" y="481.8" width="52" height="24.4" fill="none" stroke="#1c1c1c" stroke-width="1.1" />
<clipPath id="cHw2"><rect x="384.4" y="508.8" width="53.5" height="26.2"/></clipPath>
<rect x="384.4" y="508.8" width="53.5" height="26.2" fill="#cbcbcb" />
<g clip-path="url(#cHw2)">
<rect x="386" y="512" width="50" height="22" rx="4" fill="#777" opacity="0.35" filter="url(#b2)"/>
<rect x="389.5" y="518.4" width="19.8" height="7.2" rx="3.6000000000000227" fill="#111" opacity="0.8" filter="url(#b2)"/>
<rect x="413.5" y="520" width="19.5" height="7.4" rx="3.6999999999999886" fill="#111" opacity="0.8" filter="url(#b2)"/>
</g>
<rect x="384.4" y="508.8" width="53.5" height="26.2" fill="none" stroke="#1c1c1c" stroke-width="1.1" />
<clipPath id="cHm2"><rect x="440.6" y="508.8" width="52" height="26.2"/></clipPath>
<rect x="440.6" y="508.8" width="52" height="26.2" fill="#cecece" />
<g clip-path="url(#cHm2)">
<rect x="442" y="513" width="49" height="17" rx="4" fill="#888" opacity="0.25" filter="url(#b2)"/>
<rect x="444.5" y="517.6" width="19.5" height="6.8" rx="3.3999999999999773" fill="#333" opacity="0.45" filter="url(#b2)"/>
<rect x="469" y="516.8" width="19" height="6.8" rx="3.400000000000034" fill="#333" opacity="0.45" filter="url(#b2)"/>
</g>
<rect x="440.6" y="508.8" width="52" height="26.2" fill="none" stroke="#1c1c1c" stroke-width="1.1" />
<clipPath id="cHw3"><rect x="384.4" y="538.2" width="53.5" height="24.6"/></clipPath>
<rect x="384.4" y="538.2" width="53.5" height="24.6" fill="#d3d3d3" />
<g clip-path="url(#cHw3)">
<rect x="386" y="540" width="50" height="16" rx="4" fill="#888" opacity="0.25" filter="url(#b2)"/>
<rect x="388" y="543.2" width="20.8" height="7.2" rx="3.599999999999966" fill="#1a1a1a" opacity="0.85" filter="url(#b2)"/>
<rect x="412" y="553.4" width="20.5" height="7.2" rx="3.6000000000000227" fill="#666" opacity="0.5" filter="url(#b2)"/>
</g>
<rect x="384.4" y="538.2" width="53.5" height="24.6" fill="none" stroke="#1c1c1c" stroke-width="1.1" />
<clipPath id="cHm3"><rect x="440.6" y="538.2" width="52" height="24.6"/></clipPath>
<rect x="440.6" y="538.2" width="52" height="24.6" fill="#d1d1d1" />
<g clip-path="url(#cHm3)">
<rect x="442" y="542" width="49" height="19" rx="4" fill="#888" opacity="0.25" filter="url(#b2)"/>
<rect x="442.8" y="551" width="20.7" height="7.6" rx="3.8000000000000114" fill="#222" opacity="0.85" filter="url(#b2)"/>
<rect x="467.8" y="545" width="21.4" height="7.6" rx="3.8000000000000114" fill="#333" opacity="0.7" filter="url(#b2)"/>
</g>
<rect x="440.6" y="538.2" width="52" height="24.6" fill="none" stroke="#1c1c1c" stroke-width="1.1" />
<clipPath id="cHw4"><rect x="384.4" y="566.4" width="53.5" height="25"/></clipPath>
<rect x="384.4" y="566.4" width="53.5" height="25" fill="#e2e2e2" />
<g clip-path="url(#cHw4)">
<rect x="385.8" y="574.4" width="24.2" height="9.2" rx="4" fill="#000" opacity="1" filter="url(#b1)"/>
<rect x="387.5" y="575.8" width="21.0" height="6.6" rx="3.3000000000000114" fill="#000" opacity="1" filter="url(#b05)"/>
<rect x="411.8" y="575" width="24.6" height="9" rx="4" fill="#000" opacity="1" filter="url(#b1)"/>
<rect x="413.5" y="576.2" width="21.5" height="6.6" rx="3.2999999999999545" fill="#000" opacity="1" filter="url(#b05)"/>
<rect x="405" y="576.5" width="11" height="6.0" rx="3.0" fill="#111" opacity="0.8" filter="url(#b1)"/>
</g>
<rect x="384.4" y="566.4" width="53.5" height="25" fill="none" stroke="#1c1c1c" stroke-width="1.1" />
<clipPath id="cHm4"><rect x="440.6" y="566.4" width="52" height="25"/></clipPath>
<rect x="440.6" y="566.4" width="52" height="25" fill="#e2e2e2" />
<g clip-path="url(#cHm4)">
<rect x="441.2" y="574.6" width="24.2" height="9.0" rx="4" fill="#000" opacity="1" filter="url(#b1)"/>
<rect x="443" y="575.8" width="21" height="6.6" rx="3.3000000000000114" fill="#000" opacity="1" filter="url(#b05)"/>
<rect x="467.6" y="574.8" width="23.4" height="9.2" rx="4" fill="#000" opacity="1" filter="url(#b1)"/>
<rect x="469.2" y="576" width="20.4" height="6.8" rx="3.3999999999999773" fill="#000" opacity="1" filter="url(#b05)"/>
<rect x="461" y="576.5" width="11" height="6.0" rx="3.0" fill="#111" opacity="0.8" filter="url(#b1)"/>
</g>
<rect x="440.6" y="566.4" width="52" height="25" fill="none" stroke="#1c1c1c" stroke-width="1.1" />
<text font-size="8.2" text-anchor="end" textLength="18" lengthAdjust="spacingAndGlyphs" x="381.8" y="469.3" >Ezh2</text>
<text font-size="8.2" text-anchor="end" textLength="19.4" lengthAdjust="spacingAndGlyphs" x="381.8" y="496.8" >E2F3</text>
<text font-size="8.2" text-anchor="end" textLength="34" lengthAdjust="spacingAndGlyphs" x="381.8" y="524.8" >Cyclin E1</text>
<text font-size="8.2" text-anchor="end" textLength="27.6" lengthAdjust="spacingAndGlyphs" x="381.8" y="553.2" >Survivin</text>
<text font-size="8.2" text-anchor="end" textLength="25" lengthAdjust="spacingAndGlyphs" x="381.8" y="581.5" >Tubulin</text>
<line x1="493" y1="467.5" x2="496" y2="467.5" stroke="#222" stroke-width="1" />
<text font-size="8.4" textLength="9.4" lengthAdjust="spacingAndGlyphs" x="499.6" y="470" >98</text>
<line x1="493" y1="497.5" x2="496" y2="497.5" stroke="#222" stroke-width="1" />
<text font-size="8.4" textLength="9.4" lengthAdjust="spacingAndGlyphs" x="499.6" y="500.4" >55</text>
<line x1="493" y1="520.5" x2="496" y2="520.5" stroke="#222" stroke-width="1" />
<text font-size="8.4" textLength="9.4" lengthAdjust="spacingAndGlyphs" x="499.6" y="523" >53</text>
<line x1="493" y1="550.5" x2="496" y2="550.5" stroke="#222" stroke-width="1" />
<text font-size="8.4" textLength="9.4" lengthAdjust="spacingAndGlyphs" x="499.6" y="553" >17</text>
<line x1="493" y1="578.5" x2="496" y2="578.5" stroke="#222" stroke-width="1" />
<text font-size="8.4" textLength="9.4" lengthAdjust="spacingAndGlyphs" x="499.6" y="581" >50</text>
<rect x="0.5" y="0.5" width="519" height="629" fill="none" stroke="#4d4d4d" stroke-width="1" />
</svg>
</body></html>
